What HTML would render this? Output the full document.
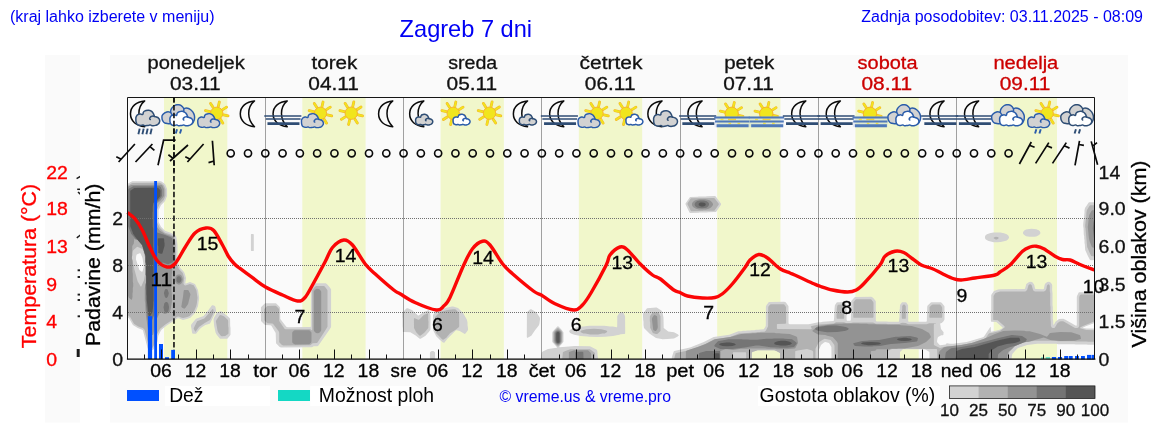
<!DOCTYPE html>
<html lang="sl"><head><meta charset="utf-8"><title>Zagreb 7 dni</title>
<style>html,body{margin:0;padding:0;background:#fff;overflow:hidden}body{width:1152px;height:443px;position:relative;font-family:"Liberation Sans",sans-serif}svg{position:absolute;left:0;top:0;display:block;will-change:transform;transform:translateZ(0)}text{font-family:"Liberation Sans",sans-serif}</style>
</head><body>
<svg width="1152" height="443" viewBox="0 0 1152 443">
<defs>
<path id="moon" d="M6.7 100.9C-1.5 101.5-7.5 106.6-7.5 113.8C-7.5 121.1-1.8 126 6.7 126.7C2.6 123 0.9 118.6 0.9 113.6C0.9 108.6 2.8 104 6.7 100.9Z" fill="none" stroke="#0a0a0a" stroke-width="1.5" stroke-linejoin="round"/>
<g id="sun"><line x1="1.57" y1="-6.82" x2="2.61" y2="-11.30" stroke="#f6ae2d" stroke-width="2.8" stroke-linecap="round"/><line x1="5.94" y1="-3.71" x2="9.84" y2="-6.15" stroke="#f6ae2d" stroke-width="2.8" stroke-linecap="round"/><line x1="6.82" y1="1.57" x2="11.30" y2="2.61" stroke="#f6ae2d" stroke-width="2.8" stroke-linecap="round"/><line x1="3.71" y1="5.94" x2="6.15" y2="9.84" stroke="#f6ae2d" stroke-width="2.8" stroke-linecap="round"/><line x1="-1.57" y1="6.82" x2="-2.61" y2="11.30" stroke="#f6ae2d" stroke-width="2.8" stroke-linecap="round"/><line x1="-5.94" y1="3.71" x2="-9.84" y2="6.15" stroke="#f6ae2d" stroke-width="2.8" stroke-linecap="round"/><line x1="-6.82" y1="-1.57" x2="-11.30" y2="-2.61" stroke="#f6ae2d" stroke-width="2.8" stroke-linecap="round"/><line x1="-3.71" y1="-5.94" x2="-6.15" y2="-9.84" stroke="#f6ae2d" stroke-width="2.8" stroke-linecap="round"/><line x1="1.57" y1="-6.82" x2="2.61" y2="-11.30" stroke="#f1e51d" stroke-width="1.85" stroke-linecap="round"/><line x1="5.94" y1="-3.71" x2="9.84" y2="-6.15" stroke="#f1e51d" stroke-width="1.85" stroke-linecap="round"/><line x1="6.82" y1="1.57" x2="11.30" y2="2.61" stroke="#f1e51d" stroke-width="1.85" stroke-linecap="round"/><line x1="3.71" y1="5.94" x2="6.15" y2="9.84" stroke="#f1e51d" stroke-width="1.85" stroke-linecap="round"/><line x1="-1.57" y1="6.82" x2="-2.61" y2="11.30" stroke="#f1e51d" stroke-width="1.85" stroke-linecap="round"/><line x1="-5.94" y1="3.71" x2="-9.84" y2="6.15" stroke="#f1e51d" stroke-width="1.85" stroke-linecap="round"/><line x1="-6.82" y1="-1.57" x2="-11.30" y2="-2.61" stroke="#f1e51d" stroke-width="1.85" stroke-linecap="round"/><line x1="-3.71" y1="-5.94" x2="-6.15" y2="-9.84" stroke="#f1e51d" stroke-width="1.85" stroke-linecap="round"/><circle cx="0" cy="0" r="6.2" fill="#f1e51d" stroke="#f6ae2d" stroke-width="0.9"/></g>
<filter id="cb" x="-5%" y="-5%" width="110%" height="110%"><feGaussianBlur stdDeviation="0.7"/></filter>
<clipPath id="plotclip"><rect x="127.0" y="97.0" width="968.0" height="262.1"/></clipPath>
</defs>
<rect x="45" y="55" width="35" height="367.5" fill="#fafafa"/>
<rect x="110" y="55" width="1018" height="367.5" fill="#fafafa"/>
<text x="10.00" y="22.00" font-size="16.00" fill="#0000f4" text-anchor="start">(kraj lahko izberete v meniju)</text>
<text x="399.60" y="37.00" font-size="23.60" fill="#0000f4" text-anchor="start">Zagreb 7 dni</text>
<text x="1143.00" y="22.00" font-size="16.00" fill="#0000f4" text-anchor="end">Zadnja posodobitev: 03.11.2025 - 08:09</text>
<rect x="164.00" y="97.0" width="63.30" height="262.1" fill="#f1f7cb"/>
<rect x="302.29" y="97.0" width="63.30" height="262.1" fill="#f1f7cb"/>
<rect x="440.57" y="97.0" width="63.30" height="262.1" fill="#f1f7cb"/>
<rect x="578.86" y="97.0" width="63.30" height="262.1" fill="#f1f7cb"/>
<rect x="717.14" y="97.0" width="63.30" height="262.1" fill="#f1f7cb"/>
<rect x="855.43" y="97.0" width="63.30" height="262.1" fill="#f1f7cb"/>
<rect x="993.71" y="97.0" width="63.30" height="262.1" fill="#f1f7cb"/>
<g clip-path="url(#plotclip)"><g filter="url(#cb)">
<path d="M153.0 349.9L151.7 349.8L148.3 349.1L147.7 348.4L143.1 331.0L142.7 330.0L137.7 327.9L132.9 325.0L129.0 318.3L126.3 316.2L125.8 315.3L125.8 185.7L126.1 185.0L126.9 184.3L130.7 181.9L132.3 181.2L160.3 181.2L161.0 181.3L164.0 183.3L165.3 184.5L167.1 189.0L167.1 196.0L165.1 201.0L161.0 205.3L158.6 210.0L158.6 222.0L161.0 226.7L165.0 230.8L171.3 233.1L175.0 235.3L176.0 236.1L176.5 237.7L177.5 244.7L177.5 262.0L180.3 268.0L183.8 271.7L184.4 272.7L186.1 278.0L185.3 283.3L186.0 283.5L190.0 282.1L195.0 284.1L198.0 290.0L199.1 297.3L199.1 298.7L198.0 306.3L195.9 311.3L194.8 313.3L190.3 317.8L187.7 318.7L183.0 319.9L178.7 318.3L177.7 318.3L166.7 325.6L161.7 329.5L160.8 330.7L158.3 335.7L157.5 341.3L156.9 343.3L153.6 349.3ZM698.7 212.7L690.3 212.9L689.7 212.7L689.3 212.2L685.4 204.0L685.7 203.3L690.0 197.0L697.3 196.8L699.0 196.5L705.7 196.5L707.3 196.2L715.0 196.1L715.7 196.6L721.1 203.7L721.0 204.7L716.0 212.0L708.3 212.2L706.7 212.5L699.7 212.5ZM1098.7 260.1L1091.0 260.2L1090.0 259.9L1087.9 256.0L1085.2 250.0L1084.8 244.3L1084.5 243.0L1084.5 240.0L1084.2 238.7L1084.2 236.3L1083.8 234.7L1083.5 228.0L1083.2 226.3L1083.2 224.0L1084.5 212.7L1084.5 210.3L1085.0 208.0L1087.7 203.9L1088.7 202.6L1089.3 202.2L1098.3 202.2L1098.8 202.3L1099.2 203.0L1099.2 259.0L1099.1 259.7ZM1034.3 236.7L1029.7 236.8L1026.0 236.2L1024.3 235.1L1023.3 234.0L1022.9 233.0L1023.3 231.7L1024.3 230.5L1026.0 229.4L1029.3 228.9L1031.7 228.7L1036.3 229.2L1038.7 230.3L1039.8 231.3L1040.2 232.0L1040.4 233.0L1040.1 234.0L1039.0 235.1L1037.3 236.1L1036.3 236.5ZM1000.7 242.1L997.0 242.3L993.7 242.2L988.7 241.1L987.0 240.3L985.3 239.0L984.9 237.3L985.2 236.0L985.6 235.3L987.0 234.3L989.7 233.3L993.3 232.5L997.0 232.4L1000.3 232.5L1004.0 233.3L1006.7 234.3L1008.3 235.6L1009.1 237.3L1008.8 238.3L1008.1 239.3L1006.7 240.4L1005.0 241.1ZM253.3 251.1L251.3 251.1L250.9 250.3L250.9 234.7L251.2 234.0L251.7 233.9L253.3 233.9L253.8 234.7L253.8 250.0L253.8 250.7ZM142.3 271.7L142.7 271.0L143.7 267.0L143.8 265.7L142.4 257.7L140.7 253.7L140.3 253.2L139.7 253.2L136.7 254.5L136.2 256.0L135.9 259.3L139.4 270.0L141.7 271.7ZM1011.0 361.7L930.0 361.8L929.5 361.7L929.4 352.3L928.7 351.5L925.3 349.4L924.0 349.2L904.3 349.2L903.0 349.3L900.0 352.0L899.8 361.7L899.3 361.8L832.0 361.8L831.5 361.7L831.4 347.0L829.0 343.0L825.3 342.1L824.0 342.6L821.0 344.9L819.0 349.7L818.8 361.7L818.3 361.8L780.3 361.7L780.2 361.7L780.0 353.1L776.3 350.9L774.3 350.2L757.7 350.2L752.3 351.9L751.8 352.7L751.8 361.7L751.3 361.8L672.7 361.8L671.8 361.7L671.8 358.0L671.9 357.0L673.3 352.7L673.7 351.6L674.1 351.0L690.0 347.4L703.8 342.0L713.7 337.0L729.3 334.8L738.3 331.2L741.3 331.2L743.0 330.8L745.7 330.8L747.3 330.5L750.0 330.5L751.7 330.2L754.3 330.2L756.0 329.8L758.7 329.8L760.0 329.5L763.7 329.3L765.1 327.3L765.8 325.7L765.9 306.3L766.6 305.0L768.6 302.3L769.3 301.9L784.3 301.8L785.0 301.9L785.7 302.3L787.7 305.0L788.5 306.3L788.5 323.3L789.0 324.1L790.0 324.2L808.7 324.2L818.3 322.2L821.0 322.2L822.7 321.8L833.3 321.1L833.8 320.7L834.1 318.0L834.2 314.0L834.5 312.3L834.5 308.7L834.9 305.3L836.7 302.6L837.7 302.2L844.3 302.2L845.2 302.7L846.2 304.7L846.5 305.7L846.6 320.3L847.3 320.8L850.3 320.8L850.8 320.0L851.2 301.3L851.5 300.7L853.7 298.2L854.7 297.2L855.3 296.9L871.3 296.8L872.3 297.2L873.5 298.3L875.5 300.7L875.8 301.3L875.8 320.3L876.0 321.1L876.7 321.5L886.7 321.5L888.7 321.8L898.0 321.8L898.8 321.7L899.1 321.0L899.2 318.7L899.5 317.0L899.5 310.0L899.8 308.7L900.0 305.0L902.0 302.3L905.0 302.2L905.7 302.2L906.3 302.6L908.1 305.3L908.2 320.7L908.5 321.7L909.7 321.8L926.3 321.8L926.8 321.0L927.2 306.7L927.5 305.7L930.5 302.7L931.3 302.2L940.7 302.2L941.3 302.5L942.3 303.5L944.5 306.3L944.5 319.0L944.3 320.0L943.1 321.7L941.7 323.0L940.5 323.3L940.2 324.0L941.0 329.0L943.6 332.3L943.4 334.7L943.0 335.2L941.3 335.3L938.1 337.0L937.6 338.0L937.0 341.3L937.2 342.3L938.9 344.3L939.7 345.1L940.3 345.2L945.7 344.4L946.7 343.3L950.0 343.8L953.0 343.8L966.7 342.1L983.0 337.2L983.7 336.7L984.7 335.4L990.3 327.1L990.7 327.2L990.8 327.7L990.9 331.3L991.3 331.8L999.0 330.0L1002.4 328.3L1002.7 327.7L1002.3 327.2L996.3 321.9L991.7 321.8L991.2 321.7L990.9 321.0L990.8 311.3L991.2 309.3L991.2 295.3L991.6 294.3L994.0 291.0L998.0 289.6L1000.0 289.2L1024.3 289.1L1025.0 288.7L1026.3 284.0L1028.7 282.2L1030.0 281.8L1032.0 282.0L1033.0 282.9L1034.2 284.7L1035.0 288.3L1035.5 289.0L1043.0 289.2L1043.7 288.9L1044.0 288.3L1044.6 285.0L1045.3 283.5L1047.3 282.0L1048.7 281.8L1050.0 282.0L1051.8 284.0L1052.2 285.0L1052.2 290.7L1052.5 292.7L1052.5 305.0L1052.8 307.0L1052.8 319.0L1053.2 320.7L1053.3 324.8L1053.7 324.8L1054.0 324.4L1055.5 321.7L1059.0 319.0L1063.3 318.8L1065.0 319.4L1076.0 325.8L1076.7 325.5L1076.8 324.7L1076.8 296.7L1077.1 295.7L1078.6 292.7L1079.0 292.3L1080.0 292.2L1098.0 292.2L1099.0 292.5L1099.2 294.0L1099.2 321.7L1099.0 322.7L1098.3 323.1L1094.0 323.3L1085.7 326.3L1082.8 327.7L1083.0 328.0L1086.7 328.5L1098.0 328.5L1099.0 328.9L1099.2 329.7L1099.2 343.7L1098.8 344.7L1098.0 344.8L1088.3 344.8L1086.3 344.5L1076.0 344.5L1074.0 344.2L1058.3 344.2L1056.0 343.8L1037.3 343.8L1027.3 344.9L1018.0 348.0L1015.8 350.0L1012.3 354.0L1011.9 356.0L1011.5 360.3ZM312.0 347.3L281.0 347.5L279.7 347.1L276.0 343.3L275.7 333.0L271.4 325.7L270.3 325.2L265.0 325.0L261.0 321.0L260.9 307.7L261.2 307.0L262.7 305.5L264.7 303.5L265.3 303.2L276.0 303.3L279.5 306.7L280.1 307.7L280.3 319.0L286.3 326.8L287.7 327.2L310.3 327.1L310.8 326.7L310.8 326.0L311.0 288.0L314.2 284.0L315.0 283.3L325.7 283.2L327.1 284.3L329.5 287.0L331.1 289.3L331.1 326.7L330.7 327.7L329.4 329.7L318.3 345.7L317.3 346.2L313.7 346.2ZM196.0 333.7L193.0 333.8L192.2 333.3L190.9 325.7L191.0 325.0L191.6 324.0L196.0 318.7L203.0 316.2L203.8 315.7L207.5 311.3L212.0 305.3L213.0 305.2L214.9 306.0L215.5 307.3L216.1 310.7L216.0 311.3L210.2 323.3L209.7 323.8L205.3 325.0L201.9 327.3L200.0 328.8ZM444.0 342.8L443.0 342.4L440.0 340.1L436.2 336.3L433.0 330.0L433.0 315.0L436.5 310.3L437.3 309.9L451.7 306.4L453.3 306.6L458.0 308.0L463.3 313.3L466.9 319.7L467.5 322.3L467.5 324.7L468.1 329.0L468.0 330.0L466.1 332.7L465.0 333.9L464.3 333.7L459.7 331.0L456.7 330.2L456.0 330.3L447.2 339.0L444.3 342.7ZM667.3 339.1L662.7 339.2L656.0 338.0L649.7 333.8L644.2 328.3L643.9 327.7L643.5 325.0L643.5 321.7L643.2 320.0L642.9 314.3L643.3 313.3L647.0 308.3L656.0 307.4L656.7 307.6L661.7 310.8L662.4 312.0L663.5 317.7L663.7 328.0L668.3 331.4L674.0 332.3L677.7 334.3L678.9 335.3L677.7 336.4L674.0 338.4ZM420.7 338.7L419.7 338.8L415.7 335.6L410.3 332.3L403.7 332.1L402.9 331.7L402.8 328.0L402.5 326.3L402.5 318.7L402.2 317.0L402.2 313.3L402.5 312.7L404.9 310.0L406.7 308.2L407.7 308.3L412.0 310.0L418.0 315.6L418.7 315.5L424.0 312.0L428.3 310.3L429.0 310.2L429.4 310.7L430.5 315.3L430.5 329.7L428.8 332.0L425.5 335.7ZM527.7 337.7L527.1 337.7L526.8 337.0L526.9 312.3L527.3 311.7L530.0 309.6L530.7 309.2L531.3 309.2L536.3 312.3L539.7 317.3L540.1 318.7L539.4 323.7L539.0 325.0L538.4 326.0L535.0 330.2L531.3 335.7ZM227.3 338.7L225.7 338.8L220.0 338.7L216.7 334.8L215.6 332.7L214.2 326.3L213.5 319.0L214.4 317.0L217.0 312.6L220.3 311.2L221.3 311.2L222.7 312.2L228.8 317.3L229.8 318.3L230.1 319.0L230.2 326.0L230.5 328.0L230.5 334.7L229.5 336.3ZM605.3 336.7L597.0 336.9L589.0 336.8L587.3 336.5L580.7 336.1L574.3 334.7L571.0 333.4L569.9 332.7L569.2 331.3L569.9 330.0L571.0 329.3L574.3 328.0L581.0 326.5L583.3 326.5L589.0 325.8L604.3 325.8L610.3 326.5L613.0 326.5L616.7 327.3L617.1 327.0L617.2 326.3L617.3 315.9L620.0 312.3L621.7 312.2L623.0 312.3L623.7 313.2L625.1 316.3L625.2 333.0L625.0 333.8L624.3 334.1L620.7 334.2L619.3 334.7L613.0 336.1L610.3 336.2ZM597.7 360.1L542.0 360.2L541.2 360.0L540.9 359.3L541.5 354.0L541.9 352.3L542.3 351.8L548.0 349.0L556.8 347.7L557.0 347.3L556.8 347.0L552.5 342.3L552.2 341.7L552.2 332.7L552.7 331.5L556.2 327.7L557.3 326.5L558.0 326.2L558.8 326.7L561.8 330.0L563.3 332.0L563.5 332.7L563.5 341.7L561.8 344.0L559.6 346.3L559.4 347.0L559.7 347.2L575.0 346.1L590.0 346.3L596.3 349.6L597.0 350.1L597.5 352.3L597.5 354.7L598.1 359.0L598.1 359.7ZM433.3 360.0L431.3 360.0L430.6 359.3L429.9 358.0L429.9 352.7L430.5 351.7L431.7 350.9L433.3 351.0L434.7 352.0L435.1 352.7L435.1 358.0L434.7 358.8Z" fill="#d2d2d2" fill-rule="evenodd"/>
<path d="M152.0 348.1L149.9 347.7L149.3 347.3L149.0 346.7L144.7 330.3L144.0 329.0L142.7 328.1L138.3 326.4L134.0 323.7L130.3 317.3L127.9 315.3L127.5 314.7L127.5 294.7L126.0 290.3L125.8 289.3L125.8 188.7L126.1 188.0L127.3 187.0L127.9 185.7L131.7 183.3L132.7 182.9L159.7 182.8L161.0 183.3L163.3 184.9L164.0 185.7L165.5 189.3L165.5 195.7L163.7 200.0L159.6 204.3L157.0 209.7L157.0 222.3L159.7 227.7L164.0 232.1L165.0 232.7L170.7 234.6L174.0 236.6L174.6 237.3L175.8 245.0L175.9 262.3L178.9 269.0L182.3 272.5L182.8 273.3L184.3 278.0L183.5 283.0L183.6 284.0L184.3 285.0L185.3 285.5L190.0 283.9L193.7 285.3L196.4 290.3L197.5 297.7L196.8 303.7L196.2 306.3L193.7 312.0L189.7 316.1L187.3 317.1L183.3 318.1L181.7 317.7L178.7 316.5L177.2 316.7L165.7 324.3L160.0 328.8L156.6 335.3L155.8 341.0L155.3 342.8L153.4 346.3L152.5 347.7ZM702.7 211.1L691.3 211.2L690.9 211.0L687.4 204.0L687.6 203.3L690.7 198.6L691.3 198.2L692.0 198.2L714.0 198.1L714.7 198.6L718.8 203.7L718.7 204.7L714.3 210.7L703.7 210.8ZM1098.7 256.8L1096.7 256.8L1091.3 255.9L1090.1 253.7L1087.2 247.0L1085.5 228.3L1085.2 227.3L1085.2 225.3L1086.1 217.7L1086.5 212.0L1087.0 210.0L1089.6 205.7L1090.3 205.2L1098.3 205.2L1098.8 205.3L1099.2 206.0L1099.2 255.7L1099.0 256.6ZM997.0 239.4L995.7 239.5L994.7 239.1L993.7 238.3L993.7 237.7L994.3 237.2L996.0 236.8L998.3 237.3L998.6 237.7L998.7 238.3ZM141.4 286.3L144.0 280.3L145.5 272.3L145.5 266.0L145.2 264.3L145.1 257.7L143.0 249.4L141.3 248.4L137.3 246.8L134.3 249.2L132.7 251.0L132.2 253.3L131.9 258.3L134.3 269.0L137.6 281.3L140.5 286.3L141.0 286.7ZM1008.0 361.7L938.0 361.8L937.5 361.7L937.1 349.7L936.7 348.9L893.3 348.8L892.0 349.0L887.3 350.9L886.9 351.3L886.8 361.7L886.7 361.7L835.0 361.8L834.5 361.7L834.5 346.0L834.2 344.7L830.7 340.0L824.7 338.7L822.3 339.9L818.7 342.4L815.7 348.2L815.5 349.3L815.5 361.7L815.0 361.8L813.2 361.7L813.2 352.0L813.0 351.2L812.0 350.6L807.0 349.1L797.7 350.5L795.7 350.9L795.3 351.2L795.2 352.0L795.2 361.7L794.7 361.8L781.3 361.8L780.2 361.7L780.0 353.1L776.3 350.9L774.3 350.2L757.7 350.2L752.3 351.9L751.8 352.7L751.8 361.7L751.3 361.8L746.2 361.7L746.1 353.0L745.8 352.3L745.0 352.2L734.0 352.2L733.2 352.3L732.8 353.3L732.8 361.7L732.3 361.8L675.0 361.8L674.2 361.7L674.2 358.7L675.4 354.0L675.7 353.3L676.2 353.0L686.7 350.7L696.7 347.4L704.7 344.2L714.3 339.3L730.0 337.1L739.0 333.5L750.7 332.8L752.3 332.5L755.0 332.5L756.7 332.2L759.3 332.2L761.0 331.8L763.7 331.8L765.0 331.4L766.1 330.3L768.1 326.3L768.2 307.3L768.6 306.3L769.7 304.9L770.7 304.2L783.7 304.2L784.5 304.7L786.0 307.0L786.1 323.3L785.3 323.8L777.2 324.0L776.9 324.7L776.9 328.3L777.0 328.8L777.7 329.1L811.0 329.2L811.6 329.0L811.8 328.7L810.9 326.7L811.0 326.3L812.0 325.9L819.0 324.5L834.0 323.5L836.0 322.3L836.7 322.2L844.0 322.2L846.0 323.0L847.0 323.2L851.0 323.1L853.0 322.5L873.0 322.5L873.7 322.7L875.7 323.8L886.0 323.8L888.0 324.2L899.3 324.1L901.3 323.0L902.3 322.8L905.7 322.9L907.6 324.0L908.7 324.2L926.7 324.2L929.3 323.2L935.9 323.3L935.8 323.7L934.3 323.8L933.8 324.7L933.9 344.7L934.7 345.4L940.0 347.9L947.7 345.9L951.0 346.2L959.0 345.2L961.3 345.1L971.7 343.1L984.3 338.8L985.7 338.0L988.5 334.0L989.3 333.3L992.7 332.8L1000.0 331.0L1004.7 327.3L1004.7 326.7L1004.2 326.0L997.7 320.2L994.0 320.1L993.2 319.7L993.2 312.3L993.5 310.3L993.5 296.0L995.2 293.3L996.7 292.6L1000.3 291.5L1025.3 291.4L1026.3 290.8L1027.2 289.7L1028.5 285.3L1029.3 284.6L1030.3 284.2L1031.0 284.4L1031.7 285.3L1032.8 289.3L1033.5 290.7L1034.3 291.2L1035.3 291.5L1044.0 291.5L1045.3 290.8L1046.0 289.8L1046.4 289.0L1046.9 286.0L1047.2 285.3L1048.3 284.3L1049.0 284.4L1049.8 285.7L1049.8 291.3L1050.2 293.0L1050.2 305.3L1050.5 307.3L1050.5 319.3L1050.8 321.3L1050.9 326.0L1051.7 327.5L1052.7 328.0L1053.3 328.1L1054.3 327.9L1055.1 327.3L1057.4 323.3L1059.7 321.5L1061.0 321.2L1063.0 321.2L1063.7 321.4L1075.0 328.0L1077.0 328.1L1078.1 327.7L1078.7 327.0L1079.2 325.7L1079.2 297.3L1079.9 295.3L1080.5 294.7L1081.3 294.5L1095.7 294.5L1096.7 294.9L1096.8 296.0L1096.8 321.0L1096.3 321.4L1094.3 321.5L1093.0 321.9L1083.0 325.9L1080.5 327.3L1079.9 328.0L1080.3 328.3L1086.3 330.1L1096.5 330.3L1096.8 330.7L1096.8 332.0L1096.8 340.7L1096.5 341.7L1088.3 341.8L1086.3 341.5L1076.0 341.5L1074.0 341.2L1058.0 341.2L1056.0 340.8L1035.0 340.8L1024.3 342.2L1015.0 345.9L1009.5 351.7L1009.2 352.3L1008.9 354.3L1008.5 360.0ZM310.3 345.3L283.3 345.5L282.0 345.1L279.7 342.8L279.2 342.0L279.2 332.7L278.7 331.3L273.0 323.7L272.3 323.5L267.3 323.3L264.3 320.3L264.2 309.3L264.5 308.7L265.7 307.5L267.0 306.2L267.7 305.9L275.3 305.8L276.0 306.0L276.7 306.5L278.8 308.7L279.1 309.3L279.2 321.0L284.7 329.0L285.7 329.2L309.7 329.2L310.3 329.3L311.7 330.3L312.1 330.0L312.2 329.0L312.2 290.3L312.5 289.7L314.5 287.3L316.0 286.0L323.7 285.9L324.5 286.3L326.1 288.3L327.3 290.0L327.5 290.7L327.5 326.7L325.4 330.3L317.3 342.7L316.7 343.1L312.7 343.3ZM873.0 317.8L854.3 317.8L853.3 317.5L853.2 313.0L853.5 311.0L853.5 302.3L855.7 299.5L856.7 299.2L870.0 299.2L871.0 299.3L871.5 299.7L873.1 301.7L873.5 302.7L873.5 316.7L873.4 317.3ZM843.7 318.8L837.3 318.8L836.6 318.3L836.5 314.7L836.8 313.0L836.8 309.3L837.2 306.3L837.6 305.3L838.3 304.7L843.0 304.5L843.7 305.0L844.0 305.7L844.2 317.7L844.1 318.3ZM905.3 318.8L902.3 318.8L901.8 318.3L901.8 310.7L902.2 309.0L902.2 306.3L902.9 305.0L903.7 304.5L904.3 304.5L905.0 304.9L905.8 306.3L905.8 317.7L905.8 318.3ZM941.7 317.8L930.3 317.8L929.3 317.5L929.2 316.0L929.5 314.0L929.5 307.3L929.9 306.7L931.7 304.9L932.7 304.5L939.7 304.5L940.5 305.0L941.8 306.7L942.2 307.7L942.2 316.7L942.1 317.3ZM195.7 331.6L195.3 331.7L195.0 331.3L193.8 329.0L193.7 328.3L197.1 321.3L197.7 320.9L204.3 318.5L208.1 314.3L212.3 309.3L213.0 309.1L213.5 310.0L213.7 312.7L210.0 320.0L204.7 322.9L199.0 326.9ZM443.3 339.8L443.0 339.8L442.3 339.5L436.0 333.0L435.5 329.3L435.5 325.7L435.2 324.0L435.1 320.0L434.8 318.7L435.0 317.0L440.0 312.0L447.3 309.9L453.0 309.2L455.3 309.2L458.7 312.5L459.1 313.3L459.2 326.0L459.0 327.0L456.0 329.4L450.0 333.2L446.3 337.8ZM657.3 334.1L656.0 334.1L653.3 333.2L652.7 332.7L650.2 327.7L650.2 322.7L649.8 321.0L649.9 316.3L650.9 314.7L652.5 312.7L653.3 312.2L658.0 312.3L659.1 313.7L660.5 316.3L660.5 330.7L660.0 331.5ZM420.3 335.8L420.0 335.8L419.3 335.5L416.2 332.3L414.0 328.0L413.9 318.7L414.1 318.3L414.7 318.3L418.3 319.7L419.0 319.7L423.9 315.0L427.7 313.2L428.0 313.4L428.2 314.0L428.2 319.7L428.5 321.7L428.3 328.0L424.3 332.8ZM225.3 336.0L222.0 336.2L221.0 336.0L218.6 333.0L217.6 331.0L215.9 321.3L216.3 320.3L219.3 315.8L220.0 315.1L221.3 315.3L224.0 316.2L227.7 319.8L228.1 320.7L228.2 326.3L228.5 328.0L228.5 333.3L228.1 334.0ZM558.3 346.4L557.7 346.4L556.2 345.3L553.6 342.3L553.2 340.7L553.3 332.3L554.2 331.0L556.3 328.8L558.0 327.8L561.1 330.3L562.2 332.0L562.5 333.3L562.3 342.0L561.0 343.8ZM598.0 334.4L590.3 334.5L585.3 333.5L583.3 333.5L580.9 332.3L580.6 332.0L580.5 331.3L581.3 330.5L586.3 329.2L594.0 328.7L601.3 329.2L606.3 330.5L607.2 331.3L607.1 332.0L606.7 332.3L604.7 333.4L602.3 333.5ZM594.7 360.1L562.7 360.1L562.2 359.7L562.2 359.0L562.9 352.3L563.3 351.9L564.7 351.3L570.3 349.2L589.7 349.2L591.0 349.9L595.0 353.0L595.1 359.3Z" fill="#b2b2b2" fill-rule="evenodd"/>
<path d="M152.7 335.1L149.7 335.1L148.9 334.7L147.9 329.3L145.9 315.3L145.8 312.0L145.5 310.3L145.2 303.0L144.8 301.0L144.8 288.3L146.2 281.7L146.2 276.3L145.8 274.3L145.8 263.3L145.5 261.7L145.5 256.0L142.1 245.0L137.7 239.8L137.0 239.5L136.0 239.9L134.7 239.0L134.3 239.3L133.7 243.7L132.4 245.7L132.2 246.7L132.2 255.3L131.8 258.0L132.5 261.0L132.5 272.0L132.8 273.7L132.8 281.7L133.2 283.3L133.2 286.3L132.8 288.3L132.8 292.0L132.5 293.3L132.5 296.7L132.0 299.5L131.7 299.7L131.0 299.4L128.8 297.7L125.9 290.0L125.8 188.7L126.1 188.0L126.9 187.3L131.3 184.9L161.0 184.8L161.7 184.9L162.2 185.3L164.1 189.3L164.1 195.7L163.3 197.1L160.3 200.8L156.6 203.7L156.2 204.3L156.2 208.3L155.8 210.0L155.8 218.7L155.5 220.7L155.5 224.7L156.0 225.7L159.7 230.4L165.0 233.9L173.3 236.7L173.9 237.0L174.2 237.7L174.2 240.3L174.5 242.0L174.5 248.7L174.8 250.3L174.8 257.0L175.2 258.7L175.2 261.3L174.9 262.3L172.2 268.0L172.2 272.7L171.8 274.3L171.8 283.7L171.5 286.0L171.5 291.7L171.8 293.3L172.2 300.0L170.5 310.3L169.9 312.0L165.3 313.9L164.7 313.9L160.7 312.3L160.2 312.3L159.8 312.7L156.3 319.7L153.4 334.0L153.1 334.7ZM705.7 209.4L702.3 209.6L699.3 209.5L696.0 208.7L694.7 208.1L693.7 207.5L692.3 206.0L691.9 204.3L692.3 202.7L693.7 201.2L695.3 200.2L699.3 199.2L705.3 199.2L708.7 200.0L710.0 200.6L711.0 201.2L712.4 202.7L713.1 204.3L712.8 205.3L712.1 206.3L710.7 207.7L708.7 208.7ZM1098.7 248.8L1094.7 248.1L1092.0 247.2L1089.6 241.3L1088.9 238.0L1087.8 227.0L1088.9 217.0L1089.3 215.0L1089.9 213.7L1091.6 210.7L1092.3 210.2L1098.3 210.2L1098.8 210.3L1099.2 211.0L1099.2 247.7L1099.0 248.6ZM179.7 284.4L178.3 284.5L176.7 283.7L175.6 282.3L175.2 281.3L175.3 277.3L176.3 275.5L177.0 274.9L178.0 274.5L180.0 274.6L181.2 275.3L182.2 277.0L182.8 279.0L182.5 281.3L182.1 282.3L181.1 283.7ZM319.0 333.0L317.7 333.2L316.0 333.0L314.2 331.3L313.8 330.3L313.8 291.7L314.0 291.0L314.8 290.0L316.0 289.0L316.7 288.8L319.0 289.0L320.8 290.7L321.2 291.7L321.2 330.3L320.8 331.3ZM184.3 308.8L182.2 307.7L181.3 306.7L183.1 296.3L183.5 292.0L183.9 290.3L184.3 289.9L187.7 289.9L188.4 290.3L189.7 292.7L190.4 294.0L190.4 294.7L188.1 304.0L185.5 307.7ZM656.0 331.1L655.3 331.1L654.0 330.4L653.2 329.7L651.9 319.0L652.2 317.7L653.7 315.6L654.3 315.1L655.3 315.3L656.7 315.9L657.2 316.7L657.8 327.3L657.4 328.7ZM870.7 361.7L839.0 361.8L837.8 361.7L837.8 343.7L837.7 343.0L836.5 341.3L832.7 337.0L827.3 335.8L825.3 334.9L818.0 334.4L813.7 332.1L812.6 331.3L812.3 330.7L816.3 327.2L818.3 325.9L820.3 325.8L835.7 323.8L842.0 323.8L844.0 323.5L858.3 323.5L860.3 323.8L867.0 323.8L868.7 324.2L875.3 324.2L877.0 324.5L899.3 324.8L901.0 325.2L911.7 325.9L922.0 328.9L929.0 333.0L930.7 336.3L930.9 337.0L930.5 337.7L926.1 342.0L918.0 346.0L904.3 348.5L898.3 348.5L896.7 348.8L891.0 348.8L889.3 349.2L877.0 349.2L876.3 349.4L875.3 350.8L871.3 350.9L870.9 351.7L870.8 361.7ZM558.7 344.8L557.7 345.0L556.5 344.3L554.9 342.7L554.2 340.7L554.3 332.7L555.5 331.0L557.7 329.6L558.7 329.8L560.3 330.9L561.4 332.3L561.5 333.0L561.5 341.3L560.5 343.3ZM309.3 344.3L295.3 344.5L294.0 344.1L292.5 342.7L292.2 342.0L292.2 333.0L292.5 332.0L294.0 330.5L295.0 330.2L308.7 330.2L309.7 330.5L311.1 332.0L311.5 332.7L311.5 341.3L311.1 342.7ZM1006.0 361.8L939.3 361.8L937.8 361.7L938.5 354.3L939.0 352.0L940.5 350.3L944.0 347.3L952.3 345.9L961.3 345.1L971.7 343.1L983.7 339.1L995.0 333.9L1003.3 330.9L1015.0 330.4L1024.3 330.8L1026.0 331.2L1029.7 331.2L1040.0 334.0L1046.7 336.7L1047.3 336.4L1049.7 333.3L1050.3 332.9L1060.0 332.1L1071.3 332.2L1079.7 334.9L1080.4 336.0L1080.9 338.3L1080.8 339.0L1074.7 340.8L1060.0 340.9L1050.3 340.1L1045.3 337.9L1043.7 337.5L1028.7 341.7L1024.0 342.3L1015.0 345.9L1011.3 349.5L1008.5 351.7L1007.9 353.0L1006.5 360.7L1006.2 361.7ZM720.0 361.7L686.0 361.7L685.8 361.7L685.9 351.3L687.0 350.6L697.7 347.1L705.7 344.1L715.0 339.3L730.3 337.1L741.3 333.9L750.7 333.5L752.3 333.2L756.0 333.2L757.7 332.8L774.3 332.8L776.0 333.2L779.3 333.2L781.0 333.5L789.7 333.9L796.3 336.6L797.1 337.3L798.0 343.0L795.4 348.0L794.7 348.5L786.0 349.3L776.7 349.2L775.0 348.8L767.3 348.8L765.3 348.5L749.3 348.5L747.7 348.8L741.0 348.8L733.0 349.9L727.3 349.2L725.3 349.3L721.0 350.7L720.2 351.3L720.2 361.7ZM590.7 360.1L569.3 360.1L568.9 359.3L568.9 352.3L569.7 351.7L574.3 350.2L588.0 350.3L590.7 352.8L591.1 353.7L591.1 359.3Z" fill="#939393" fill-rule="evenodd"/>
<path d="M150.7 322.1L149.0 322.1L148.2 321.7L147.9 320.0L146.2 305.7L146.2 300.7L145.8 299.0L145.8 290.7L145.5 288.3L145.5 284.7L146.2 282.0L146.2 276.7L145.8 274.7L145.8 263.3L145.5 261.7L145.4 255.7L142.1 245.0L137.8 240.0L137.3 239.6L136.0 239.2L131.3 234.1L128.2 226.0L128.2 189.7L128.7 188.8L133.3 186.2L159.7 186.2L160.6 187.0L162.1 190.3L162.0 196.0L158.3 200.8L154.9 203.7L154.5 204.7L154.5 238.3L154.8 240.7L154.8 253.7L155.2 255.7L155.2 301.7L154.8 303.3L154.8 306.7L154.5 308.3L154.5 311.7L154.1 315.0L151.8 320.7L151.2 321.7ZM704.0 208.1L702.0 208.3L700.0 208.1L697.7 207.7L697.0 207.4L695.7 206.5L695.0 205.7L694.6 204.3L695.0 203.0L695.7 202.2L697.3 201.1L700.0 200.5L703.7 200.5L706.0 201.0L706.7 201.3L708.0 202.2L708.7 203.0L709.1 204.3L708.8 205.3L708.2 206.3L706.7 207.4L706.0 207.7ZM1098.7 239.8L1095.3 238.6L1094.3 238.1L1093.9 237.7L1092.8 228.3L1093.5 222.0L1094.0 220.2L1095.7 219.3L1098.7 218.2L1099.1 218.7L1099.2 220.3L1099.2 238.7L1099.0 239.6ZM168.7 264.1L167.7 264.2L163.0 262.5L158.0 263.8L157.3 263.8L156.9 263.3L156.8 259.3L156.5 257.7L156.5 248.7L156.2 247.0L156.2 238.0L155.8 236.0L155.9 232.7L156.3 232.2L165.0 234.9L171.3 237.6L172.1 238.3L172.5 240.0L173.5 249.3L173.5 255.0L173.2 256.7L173.2 261.3L172.9 262.0L172.5 262.3ZM179.7 282.7L178.7 282.8L177.7 282.5L177.1 282.0L176.5 280.7L176.6 278.0L177.3 276.8L178.3 276.2L179.3 276.2L180.2 276.7L180.9 277.7L181.4 279.0L181.4 280.0L180.9 281.3L180.3 282.3ZM167.0 297.7L166.0 297.9L164.9 297.0L163.9 293.3L164.8 290.0L165.3 289.2L166.0 288.9L167.0 289.0L167.7 289.7L168.8 293.3L168.0 296.3ZM167.0 312.7L166.3 312.9L165.7 312.7L164.6 311.7L164.2 310.7L163.5 307.3L164.4 303.3L165.3 302.2L166.3 301.9L167.3 302.2L168.2 303.3L169.1 307.3L168.4 311.0L167.8 312.0ZM837.0 332.1L827.3 332.2L822.3 331.5L818.0 330.7L815.7 329.7L815.3 329.3L815.2 328.7L816.0 327.8L818.3 326.9L828.3 325.5L836.3 325.5L841.3 326.2L845.7 327.0L848.0 327.9L848.7 328.7L848.7 329.1L848.0 329.7L845.7 330.7ZM558.7 343.7L557.3 343.7L556.3 343.1L555.6 342.0L555.2 340.3L555.3 333.0L556.3 331.5L557.3 331.0L558.0 330.9L558.7 331.0L559.7 331.5L560.2 332.3L560.5 333.3L560.5 341.3L559.8 343.0ZM997.0 361.7L946.3 361.8L944.8 361.7L945.5 354.3L946.0 352.0L950.0 348.9L951.3 348.2L961.3 347.1L974.3 344.5L997.7 338.3L1011.7 335.1L1014.7 335.2L1022.0 336.0L1026.7 338.9L1026.7 339.7L1025.3 342.0L1024.0 342.3L1014.7 346.0L1010.3 347.0L1003.7 349.8L1002.2 350.7L998.3 354.0L997.9 355.7L997.5 360.0ZM872.3 346.4L865.0 346.6L855.3 346.1L854.6 345.7L853.3 343.7L853.4 343.3L854.3 342.9L862.3 340.9L867.0 340.8L868.7 340.5L879.3 340.1L895.7 336.8L899.0 336.8L900.7 336.5L910.0 336.1L916.7 337.6L917.7 337.9L917.9 338.3L917.4 340.7L916.7 341.4L904.7 343.1L890.7 343.9L879.7 346.1L873.3 346.2ZM732.0 349.1L720.3 349.1L714.7 346.4L714.3 346.0L714.3 345.7L715.2 344.3L718.0 341.3L728.7 339.2L741.3 339.2L743.0 339.5L747.7 339.5L749.3 339.8L757.3 339.8L766.7 338.8L772.0 338.8L774.0 338.5L783.3 338.5L784.7 338.8L792.0 339.3L795.7 341.9L796.8 343.0L796.4 344.0L794.0 347.0L787.0 347.8L780.0 347.8L778.3 347.5L770.7 347.2L759.0 345.5L756.0 345.5L744.7 347.5ZM720.0 361.7L699.0 361.7L698.8 361.7L698.9 353.3L699.3 352.9L706.3 350.9L719.7 350.9L720.1 351.3L720.2 352.0L720.2 361.7ZM583.0 360.1L576.3 360.2L575.3 359.8L575.2 353.0L575.5 352.0L582.3 351.8L583.3 352.2L583.5 359.0L583.4 359.7Z" fill="#747474" fill-rule="evenodd"/>
<path d="M150.0 316.1L149.0 316.1L148.7 315.8L148.2 314.0L147.8 308.3L146.8 300.7L146.8 296.0L146.5 294.3L146.5 286.7L146.2 285.0L146.2 276.3L145.8 274.7L145.8 263.7L145.5 261.7L145.5 256.0L142.2 245.3L137.5 239.7L133.3 234.0L130.2 226.0L130.2 191.3L130.7 190.5L134.3 187.9L157.3 187.8L158.5 188.3L160.1 190.0L160.5 190.7L160.3 196.0L157.2 200.0L153.3 203.0L152.8 206.7L152.8 211.0L152.5 212.7L152.5 218.0L152.8 220.0L152.8 227.0L153.2 228.7L153.2 246.0L153.5 248.3L153.5 301.0L153.2 302.3L153.2 305.0L152.5 311.7L150.7 315.3ZM703.3 206.4L701.3 206.5L699.3 205.7L698.7 205.0L698.7 203.8L700.3 202.5L702.0 202.4L704.3 202.7L705.6 203.7L705.8 204.7L705.0 205.7ZM162.0 253.8L160.7 253.7L158.7 253.1L158.2 252.7L158.2 246.3L157.8 244.7L157.8 239.7L157.9 238.7L158.3 238.2L163.3 238.2L164.1 238.7L164.2 241.7L164.5 243.0L164.5 246.0L162.4 253.3ZM558.7 342.8L557.3 342.8L556.7 342.3L556.2 340.0L556.2 333.7L556.9 332.3L558.0 331.9L559.0 332.3L559.5 333.3L559.5 341.7L559.3 342.3ZM908.7 340.7L904.3 340.9L900.3 340.8L897.7 340.1L897.2 339.7L897.2 339.3L897.4 339.0L898.3 338.6L902.3 337.9L903.7 337.8L906.0 337.8L908.3 338.2L910.3 338.6L911.7 339.3L911.3 340.0ZM988.3 361.7L956.0 361.7L955.8 361.7L955.8 357.3L956.2 355.7L956.2 351.3L957.0 350.7L962.0 348.9L974.7 347.1L998.7 340.3L1006.7 338.5L1010.7 337.8L1018.7 337.8L1019.5 338.3L1020.3 340.7L1020.0 341.1L1018.7 341.7L1014.7 343.1L1006.7 343.9L999.3 345.9L997.7 346.6L992.2 350.0L990.5 351.7L988.7 354.0L988.5 361.7ZM785.7 345.4L780.7 345.5L776.0 344.8L774.7 344.2L774.1 343.3L774.4 342.7L775.7 341.9L778.0 341.2L781.0 340.8L785.0 340.8L787.7 341.2L790.1 342.0L791.7 343.0L791.7 343.7L790.0 344.7ZM874.0 345.1L868.3 345.2L865.3 344.8L861.7 344.1L861.2 343.7L861.2 343.3L861.7 342.9L862.7 342.6L865.3 342.2L871.0 342.1L876.3 342.2L879.0 342.6L880.3 343.0L880.7 343.3L880.7 343.7L880.4 344.0L879.0 344.4ZM732.3 346.1L727.3 346.3L722.7 346.1L719.7 345.1L719.2 344.7L719.2 344.3L719.7 343.7L720.7 343.2L726.3 342.5L729.7 342.5L734.0 343.2L735.7 344.3L735.3 345.0ZM719.3 361.7L714.7 361.8L713.8 361.7L713.8 354.3L714.2 353.3L718.3 353.2L719.3 353.5L719.5 355.0L719.5 361.7Z" fill="#555555" fill-rule="evenodd"/>
</g></g>
<line x1="128" y1="218.5" x2="1095.0" y2="218.5" stroke="#707070" stroke-width="1" stroke-dasharray="1 1"/>
<line x1="128" y1="265.5" x2="1095.0" y2="265.5" stroke="#707070" stroke-width="1" stroke-dasharray="1 1"/>
<line x1="128" y1="312.5" x2="1095.0" y2="312.5" stroke="#707070" stroke-width="1" stroke-dasharray="1 1"/>
<line x1="265.50" y1="97.0" x2="265.50" y2="359.1" stroke="#000" stroke-opacity="0.36" stroke-width="1"/>
<line x1="403.50" y1="97.0" x2="403.50" y2="359.1" stroke="#000" stroke-opacity="0.36" stroke-width="1"/>
<line x1="541.50" y1="97.0" x2="541.50" y2="359.1" stroke="#000" stroke-opacity="0.36" stroke-width="1"/>
<line x1="680.50" y1="97.0" x2="680.50" y2="359.1" stroke="#000" stroke-opacity="0.36" stroke-width="1"/>
<line x1="818.50" y1="97.0" x2="818.50" y2="359.1" stroke="#000" stroke-opacity="0.36" stroke-width="1"/>
<line x1="956.50" y1="97.0" x2="956.50" y2="359.1" stroke="#000" stroke-opacity="0.36" stroke-width="1"/>
<rect x="1041" y="357.6" width="3.10" height="1.00" fill="#14d8c4"/>
<rect x="1045.7" y="357.4" width="4.30" height="1.20" fill="#14d8c4"/>
<rect x="1051.9" y="357" width="4.20" height="2.40" fill="#0050ff"/>
<rect x="1057.9" y="357" width="4.20" height="2.40" fill="#0050ff"/>
<rect x="1064.2" y="356" width="4.10" height="3.40" fill="#0050ff"/>
<rect x="1069" y="356" width="3.70" height="3.40" fill="#0050ff"/>
<rect x="1075" y="356" width="3.90" height="3.40" fill="#0050ff"/>
<rect x="1081" y="356" width="3.90" height="3.40" fill="#0050ff"/>
<rect x="1087" y="354.9" width="4.40" height="4.50" fill="#0050ff"/>
<rect x="1091.8" y="354.9" width="2.40" height="4.50" fill="#0050ff"/>
<line x1="173.96" y1="97.0" x2="173.96" y2="359.1" stroke="#111" stroke-width="1.6" stroke-dasharray="5.5 2.4"/>
<rect x="147.9" y="316.2" width="4.20" height="42.90" fill="#0050ff"/>
<rect x="154.2" y="181" width="2.80" height="178.10" fill="#0050ff"/>
<rect x="159.0" y="344" width="4.00" height="15.10" fill="#0050ff"/>
<rect x="165.0" y="357.2" width="4.00" height="1.90" fill="#0050ff"/>
<rect x="171.2" y="349.9" width="3.80" height="9.20" fill="#0050ff"/>
<path d="M127.50 212.50C128.75 213.54 132.50 215.75 135.00 218.75C137.50 221.75 140.00 225.71 142.50 230.50C145.00 235.29 147.50 242.42 150.00 247.50C152.50 252.58 154.67 257.75 157.50 261.00C160.33 264.25 164.08 266.54 167.00 267.00C169.92 267.46 172.00 267.00 175.00 263.75C178.00 260.50 181.67 252.62 185.00 247.50C188.33 242.38 191.50 236.25 195.00 233.00C198.50 229.75 202.88 228.42 206.00 228.00C209.12 227.58 211.00 227.67 213.75 230.50C216.50 233.33 220.04 240.67 222.50 245.00C224.96 249.33 226.50 253.33 228.50 256.50C230.50 259.67 232.58 262.02 234.50 264.00C236.42 265.98 237.00 266.12 240.00 268.40C243.00 270.68 248.25 274.60 252.50 277.70C256.75 280.80 260.50 284.12 265.50 287.00C270.50 289.88 277.17 292.67 282.50 295.00C287.83 297.33 293.75 300.58 297.50 301.00C301.25 301.42 302.50 300.17 305.00 297.50C307.50 294.83 309.17 290.92 312.50 285.00C315.83 279.08 321.67 268.25 325.00 262.00C328.33 255.75 329.38 251.17 332.50 247.50C335.62 243.83 340.42 240.42 343.75 240.00C347.08 239.58 348.96 241.04 352.50 245.00C356.04 248.96 361.25 258.96 365.00 263.75C368.75 268.54 370.21 269.38 375.00 273.75C379.79 278.12 389.58 286.67 393.75 290.00C397.92 293.33 396.46 291.67 400.00 293.75C403.54 295.83 408.96 299.79 415.00 302.50C421.04 305.21 431.46 309.42 436.25 310.00C441.04 310.58 441.46 308.08 443.75 306.00C446.04 303.92 446.67 304.33 450.00 297.50C453.33 290.67 460.00 273.12 463.75 265.00C467.50 256.88 469.38 252.71 472.50 248.75C475.62 244.79 479.58 241.88 482.50 241.25C485.42 240.62 486.67 241.25 490.00 245.00C493.33 248.75 498.75 258.96 502.50 263.75C506.25 268.54 507.29 269.17 512.50 273.75C517.71 278.33 528.96 287.71 533.75 291.25C538.54 294.79 537.71 292.92 541.25 295.00C544.79 297.08 549.58 301.25 555.00 303.75C560.42 306.25 569.17 309.79 573.75 310.00C578.33 310.21 579.58 307.92 582.50 305.00C585.42 302.08 587.29 299.17 591.25 292.50C595.21 285.83 603.12 271.25 606.25 265.00C609.38 258.75 607.71 258.00 610.00 255.00C612.29 252.00 617.08 247.83 620.00 247.00C622.92 246.17 624.17 247.21 627.50 250.00C630.83 252.79 635.83 259.58 640.00 263.75C644.17 267.92 649.17 272.50 652.50 275.00C655.83 277.50 656.46 276.25 660.00 278.75C663.54 281.25 670.42 287.71 673.75 290.00C677.08 292.29 677.71 291.50 680.00 292.50C682.29 293.50 683.75 295.08 687.50 296.00C691.25 296.92 697.92 297.75 702.50 298.00C707.08 298.25 711.67 298.21 715.00 297.50C718.33 296.79 719.58 296.04 722.50 293.75C725.42 291.46 728.75 288.12 732.50 283.75C736.25 279.38 742.08 271.46 745.00 267.50C747.92 263.54 747.71 262.17 750.00 260.00C752.29 257.83 755.83 254.83 758.75 254.50C761.67 254.17 763.96 255.62 767.50 258.00C771.04 260.38 776.25 266.25 780.00 268.75C783.75 271.25 787.08 271.75 790.00 273.00C792.92 274.25 793.54 274.46 797.50 276.25C801.46 278.04 810.00 282.08 813.75 283.75C817.50 285.42 816.88 285.21 820.00 286.25C823.12 287.29 827.92 289.04 832.50 290.00C837.08 290.96 843.54 292.00 847.50 292.00C851.46 292.00 853.54 291.38 856.25 290.00C858.96 288.62 859.79 287.92 863.75 283.75C867.71 279.58 876.46 269.58 880.00 265.00C883.54 260.42 882.50 258.54 885.00 256.25C887.50 253.96 891.88 251.88 895.00 251.25C898.12 250.62 900.83 251.25 903.75 252.50C906.67 253.75 909.58 256.67 912.50 258.75C915.42 260.83 917.92 263.33 921.25 265.00C924.58 266.67 928.96 267.29 932.50 268.75C936.04 270.21 938.96 272.08 942.50 273.75C946.04 275.42 950.62 277.71 953.75 278.75C956.88 279.79 957.71 280.12 961.25 280.00C964.79 279.88 969.38 278.83 975.00 278.00C980.62 277.17 990.83 276.00 995.00 275.00C999.17 274.00 997.50 273.67 1000.00 272.00C1002.50 270.33 1006.25 268.46 1010.00 265.00C1013.75 261.54 1019.17 254.25 1022.50 251.25C1025.83 248.25 1027.71 247.83 1030.00 247.00C1032.29 246.17 1033.96 245.96 1036.25 246.25C1038.54 246.54 1040.62 247.08 1043.75 248.75C1046.88 250.42 1051.88 254.46 1055.00 256.25C1058.12 258.04 1060.00 258.88 1062.50 259.50C1065.00 260.12 1067.08 259.17 1070.00 260.00C1072.92 260.83 1075.92 262.83 1080.00 264.50C1084.08 266.17 1092.08 269.08 1094.50 270.00" fill="none" stroke="#fb0606" stroke-width="3.4" stroke-linejoin="round" stroke-linecap="butt"/>
<text x="161.25" y="286.20" font-size="17.59" fill="#000" stroke="#000" stroke-width="0.3" text-anchor="middle" textLength="21.63" lengthAdjust="spacingAndGlyphs">11</text>
<text x="207.50" y="249.95" font-size="17.59" fill="#000" stroke="#000" stroke-width="0.3" text-anchor="middle" textLength="21.63" lengthAdjust="spacingAndGlyphs">15</text>
<text x="300.00" y="322.70" font-size="17.59" fill="#000" stroke="#000" stroke-width="0.3" text-anchor="middle" textLength="10.82" lengthAdjust="spacingAndGlyphs">7</text>
<text x="345.60" y="261.60" font-size="17.59" fill="#000" stroke="#000" stroke-width="0.3" text-anchor="middle" textLength="21.63" lengthAdjust="spacingAndGlyphs">14</text>
<text x="437.50" y="330.95" font-size="17.59" fill="#000" stroke="#000" stroke-width="0.3" text-anchor="middle" textLength="10.82" lengthAdjust="spacingAndGlyphs">6</text>
<text x="483.00" y="263.70" font-size="17.59" fill="#000" stroke="#000" stroke-width="0.3" text-anchor="middle" textLength="21.63" lengthAdjust="spacingAndGlyphs">14</text>
<text x="576.25" y="330.95" font-size="17.59" fill="#000" stroke="#000" stroke-width="0.3" text-anchor="middle" textLength="10.82" lengthAdjust="spacingAndGlyphs">6</text>
<text x="622.25" y="268.70" font-size="17.59" fill="#000" stroke="#000" stroke-width="0.3" text-anchor="middle" textLength="21.63" lengthAdjust="spacingAndGlyphs">13</text>
<text x="708.75" y="319.20" font-size="17.59" fill="#000" stroke="#000" stroke-width="0.3" text-anchor="middle" textLength="10.82" lengthAdjust="spacingAndGlyphs">7</text>
<text x="760.00" y="276.20" font-size="17.59" fill="#000" stroke="#000" stroke-width="0.3" text-anchor="middle" textLength="21.63" lengthAdjust="spacingAndGlyphs">12</text>
<text x="846.60" y="313.70" font-size="17.59" fill="#000" stroke="#000" stroke-width="0.3" text-anchor="middle" textLength="10.82" lengthAdjust="spacingAndGlyphs">8</text>
<text x="898.40" y="272.45" font-size="17.59" fill="#000" stroke="#000" stroke-width="0.3" text-anchor="middle" textLength="21.63" lengthAdjust="spacingAndGlyphs">13</text>
<text x="962.00" y="301.95" font-size="17.59" fill="#000" stroke="#000" stroke-width="0.3" text-anchor="middle" textLength="10.82" lengthAdjust="spacingAndGlyphs">9</text>
<text x="1036.60" y="267.70" font-size="17.59" fill="#000" stroke="#000" stroke-width="0.3" text-anchor="middle" textLength="21.63" lengthAdjust="spacingAndGlyphs">13</text>
<text x="1093.50" y="292.70" font-size="17.59" fill="#000" stroke="#000" stroke-width="0.3" text-anchor="middle" textLength="21.63" lengthAdjust="spacingAndGlyphs">10</text>
<path d="M127.5 359.1V97.5H1094.5V359.1" fill="none" stroke="#161616" stroke-width="1"/>
<line x1="126.9" y1="359.1" x2="1095.4" y2="359.1" stroke="#000" stroke-width="1.3"/>
<line x1="144.50" y1="359.1" x2="144.50" y2="354.5" stroke="#111" stroke-width="1"/>
<line x1="161.50" y1="359.1" x2="161.50" y2="349.5" stroke="#111" stroke-width="1"/>
<line x1="178.50" y1="359.1" x2="178.50" y2="354.5" stroke="#111" stroke-width="1"/>
<line x1="196.50" y1="359.1" x2="196.50" y2="349.5" stroke="#111" stroke-width="1"/>
<line x1="213.50" y1="359.1" x2="213.50" y2="354.5" stroke="#111" stroke-width="1"/>
<line x1="230.50" y1="359.1" x2="230.50" y2="349.5" stroke="#111" stroke-width="1"/>
<line x1="248.50" y1="359.1" x2="248.50" y2="354.5" stroke="#111" stroke-width="1"/>
<line x1="282.50" y1="359.1" x2="282.50" y2="354.5" stroke="#111" stroke-width="1"/>
<line x1="299.50" y1="359.1" x2="299.50" y2="349.5" stroke="#111" stroke-width="1"/>
<line x1="317.50" y1="359.1" x2="317.50" y2="354.5" stroke="#111" stroke-width="1"/>
<line x1="334.50" y1="359.1" x2="334.50" y2="349.5" stroke="#111" stroke-width="1"/>
<line x1="351.50" y1="359.1" x2="351.50" y2="354.5" stroke="#111" stroke-width="1"/>
<line x1="369.50" y1="359.1" x2="369.50" y2="349.5" stroke="#111" stroke-width="1"/>
<line x1="386.50" y1="359.1" x2="386.50" y2="354.5" stroke="#111" stroke-width="1"/>
<line x1="420.50" y1="359.1" x2="420.50" y2="354.5" stroke="#111" stroke-width="1"/>
<line x1="438.50" y1="359.1" x2="438.50" y2="349.5" stroke="#111" stroke-width="1"/>
<line x1="455.50" y1="359.1" x2="455.50" y2="354.5" stroke="#111" stroke-width="1"/>
<line x1="472.50" y1="359.1" x2="472.50" y2="349.5" stroke="#111" stroke-width="1"/>
<line x1="490.50" y1="359.1" x2="490.50" y2="354.5" stroke="#111" stroke-width="1"/>
<line x1="507.50" y1="359.1" x2="507.50" y2="349.5" stroke="#111" stroke-width="1"/>
<line x1="524.50" y1="359.1" x2="524.50" y2="354.5" stroke="#111" stroke-width="1"/>
<line x1="559.50" y1="359.1" x2="559.50" y2="354.5" stroke="#111" stroke-width="1"/>
<line x1="576.50" y1="359.1" x2="576.50" y2="349.5" stroke="#111" stroke-width="1"/>
<line x1="593.50" y1="359.1" x2="593.50" y2="354.5" stroke="#111" stroke-width="1"/>
<line x1="611.50" y1="359.1" x2="611.50" y2="349.5" stroke="#111" stroke-width="1"/>
<line x1="628.50" y1="359.1" x2="628.50" y2="354.5" stroke="#111" stroke-width="1"/>
<line x1="645.50" y1="359.1" x2="645.50" y2="349.5" stroke="#111" stroke-width="1"/>
<line x1="662.50" y1="359.1" x2="662.50" y2="354.5" stroke="#111" stroke-width="1"/>
<line x1="697.50" y1="359.1" x2="697.50" y2="354.5" stroke="#111" stroke-width="1"/>
<line x1="714.50" y1="359.1" x2="714.50" y2="349.5" stroke="#111" stroke-width="1"/>
<line x1="732.50" y1="359.1" x2="732.50" y2="354.5" stroke="#111" stroke-width="1"/>
<line x1="749.50" y1="359.1" x2="749.50" y2="349.5" stroke="#111" stroke-width="1"/>
<line x1="766.50" y1="359.1" x2="766.50" y2="354.5" stroke="#111" stroke-width="1"/>
<line x1="783.50" y1="359.1" x2="783.50" y2="349.5" stroke="#111" stroke-width="1"/>
<line x1="801.50" y1="359.1" x2="801.50" y2="354.5" stroke="#111" stroke-width="1"/>
<line x1="835.50" y1="359.1" x2="835.50" y2="354.5" stroke="#111" stroke-width="1"/>
<line x1="853.50" y1="359.1" x2="853.50" y2="349.5" stroke="#111" stroke-width="1"/>
<line x1="870.50" y1="359.1" x2="870.50" y2="354.5" stroke="#111" stroke-width="1"/>
<line x1="887.50" y1="359.1" x2="887.50" y2="349.5" stroke="#111" stroke-width="1"/>
<line x1="904.50" y1="359.1" x2="904.50" y2="354.5" stroke="#111" stroke-width="1"/>
<line x1="922.50" y1="359.1" x2="922.50" y2="349.5" stroke="#111" stroke-width="1"/>
<line x1="939.50" y1="359.1" x2="939.50" y2="354.5" stroke="#111" stroke-width="1"/>
<line x1="974.50" y1="359.1" x2="974.50" y2="354.5" stroke="#111" stroke-width="1"/>
<line x1="991.50" y1="359.1" x2="991.50" y2="349.5" stroke="#111" stroke-width="1"/>
<line x1="1008.50" y1="359.1" x2="1008.50" y2="354.5" stroke="#111" stroke-width="1"/>
<line x1="1025.50" y1="359.1" x2="1025.50" y2="349.5" stroke="#111" stroke-width="1"/>
<line x1="1043.50" y1="359.1" x2="1043.50" y2="354.5" stroke="#111" stroke-width="1"/>
<line x1="1060.50" y1="359.1" x2="1060.50" y2="349.5" stroke="#111" stroke-width="1"/>
<line x1="1077.50" y1="359.1" x2="1077.50" y2="354.5" stroke="#111" stroke-width="1"/>
<text x="160.97" y="376.60" font-size="17.59" fill="#000" stroke="#000" stroke-width="0.3" text-anchor="middle" textLength="21.63" lengthAdjust="spacingAndGlyphs">06</text>
<text x="195.54" y="376.60" font-size="17.59" fill="#000" stroke="#000" stroke-width="0.3" text-anchor="middle" textLength="21.63" lengthAdjust="spacingAndGlyphs">12</text>
<text x="230.11" y="376.60" font-size="17.59" fill="#000" stroke="#000" stroke-width="0.3" text-anchor="middle" textLength="21.63" lengthAdjust="spacingAndGlyphs">18</text>
<text x="299.26" y="376.60" font-size="17.59" fill="#000" stroke="#000" stroke-width="0.3" text-anchor="middle" textLength="21.63" lengthAdjust="spacingAndGlyphs">06</text>
<text x="333.83" y="376.60" font-size="17.59" fill="#000" stroke="#000" stroke-width="0.3" text-anchor="middle" textLength="21.63" lengthAdjust="spacingAndGlyphs">12</text>
<text x="368.40" y="376.60" font-size="17.59" fill="#000" stroke="#000" stroke-width="0.3" text-anchor="middle" textLength="21.63" lengthAdjust="spacingAndGlyphs">18</text>
<text x="265.29" y="376.60" font-size="17.59" fill="#000" stroke="#000" stroke-width="0.3" text-anchor="middle" textLength="24.05" lengthAdjust="spacingAndGlyphs">tor</text>
<text x="437.54" y="376.60" font-size="17.59" fill="#000" stroke="#000" stroke-width="0.3" text-anchor="middle" textLength="21.63" lengthAdjust="spacingAndGlyphs">06</text>
<text x="472.11" y="376.60" font-size="17.59" fill="#000" stroke="#000" stroke-width="0.3" text-anchor="middle" textLength="21.63" lengthAdjust="spacingAndGlyphs">12</text>
<text x="506.69" y="376.60" font-size="17.59" fill="#000" stroke="#000" stroke-width="0.3" text-anchor="middle" textLength="21.63" lengthAdjust="spacingAndGlyphs">18</text>
<text x="403.57" y="376.60" font-size="17.59" fill="#000" stroke="#000" stroke-width="0.3" text-anchor="middle" textLength="25.93" lengthAdjust="spacingAndGlyphs">sre</text>
<text x="575.83" y="376.60" font-size="17.59" fill="#000" stroke="#000" stroke-width="0.3" text-anchor="middle" textLength="21.63" lengthAdjust="spacingAndGlyphs">06</text>
<text x="610.40" y="376.60" font-size="17.59" fill="#000" stroke="#000" stroke-width="0.3" text-anchor="middle" textLength="21.63" lengthAdjust="spacingAndGlyphs">12</text>
<text x="644.97" y="376.60" font-size="17.59" fill="#000" stroke="#000" stroke-width="0.3" text-anchor="middle" textLength="21.63" lengthAdjust="spacingAndGlyphs">18</text>
<text x="541.86" y="376.60" font-size="17.59" fill="#000" stroke="#000" stroke-width="0.3" text-anchor="middle" textLength="26.47" lengthAdjust="spacingAndGlyphs">čet</text>
<text x="714.11" y="376.60" font-size="17.59" fill="#000" stroke="#000" stroke-width="0.3" text-anchor="middle" textLength="21.63" lengthAdjust="spacingAndGlyphs">06</text>
<text x="748.69" y="376.60" font-size="17.59" fill="#000" stroke="#000" stroke-width="0.3" text-anchor="middle" textLength="21.63" lengthAdjust="spacingAndGlyphs">12</text>
<text x="783.26" y="376.60" font-size="17.59" fill="#000" stroke="#000" stroke-width="0.3" text-anchor="middle" textLength="21.63" lengthAdjust="spacingAndGlyphs">18</text>
<text x="680.14" y="376.60" font-size="17.59" fill="#000" stroke="#000" stroke-width="0.3" text-anchor="middle" textLength="27.92" lengthAdjust="spacingAndGlyphs">pet</text>
<text x="852.40" y="376.60" font-size="17.59" fill="#000" stroke="#000" stroke-width="0.3" text-anchor="middle" textLength="21.63" lengthAdjust="spacingAndGlyphs">06</text>
<text x="886.97" y="376.60" font-size="17.59" fill="#000" stroke="#000" stroke-width="0.3" text-anchor="middle" textLength="21.63" lengthAdjust="spacingAndGlyphs">12</text>
<text x="921.54" y="376.60" font-size="17.59" fill="#000" stroke="#000" stroke-width="0.3" text-anchor="middle" textLength="21.63" lengthAdjust="spacingAndGlyphs">18</text>
<text x="818.43" y="376.60" font-size="17.59" fill="#000" stroke="#000" stroke-width="0.3" text-anchor="middle" textLength="30.05" lengthAdjust="spacingAndGlyphs">sob</text>
<text x="990.69" y="376.60" font-size="17.59" fill="#000" stroke="#000" stroke-width="0.3" text-anchor="middle" textLength="21.63" lengthAdjust="spacingAndGlyphs">06</text>
<text x="1025.26" y="376.60" font-size="17.59" fill="#000" stroke="#000" stroke-width="0.3" text-anchor="middle" textLength="21.63" lengthAdjust="spacingAndGlyphs">12</text>
<text x="1059.83" y="376.60" font-size="17.59" fill="#000" stroke="#000" stroke-width="0.3" text-anchor="middle" textLength="21.63" lengthAdjust="spacingAndGlyphs">18</text>
<text x="956.71" y="376.60" font-size="17.59" fill="#000" stroke="#000" stroke-width="0.3" text-anchor="middle" textLength="32.03" lengthAdjust="spacingAndGlyphs">ned</text>
<text x="196.14" y="68.90" font-size="18.32" fill="#111" stroke="#111" stroke-width="0.3" text-anchor="middle" textLength="97.28" lengthAdjust="spacingAndGlyphs">ponedeljek</text>
<text x="195.34" y="89.80" font-size="18.32" fill="#111" stroke="#111" stroke-width="0.3" text-anchor="middle" textLength="50.67" lengthAdjust="spacingAndGlyphs">03.11</text>
<text x="334.43" y="68.90" font-size="18.32" fill="#111" stroke="#111" stroke-width="0.3" text-anchor="middle" textLength="45.80" lengthAdjust="spacingAndGlyphs">torek</text>
<text x="333.63" y="89.80" font-size="18.32" fill="#111" stroke="#111" stroke-width="0.3" text-anchor="middle" textLength="50.67" lengthAdjust="spacingAndGlyphs">04.11</text>
<text x="472.71" y="68.90" font-size="18.32" fill="#111" stroke="#111" stroke-width="0.3" text-anchor="middle" textLength="49.08" lengthAdjust="spacingAndGlyphs">sreda</text>
<text x="471.91" y="89.80" font-size="18.32" fill="#111" stroke="#111" stroke-width="0.3" text-anchor="middle" textLength="50.67" lengthAdjust="spacingAndGlyphs">05.11</text>
<text x="611.00" y="68.90" font-size="18.32" fill="#111" stroke="#111" stroke-width="0.3" text-anchor="middle" textLength="62.92" lengthAdjust="spacingAndGlyphs">četrtek</text>
<text x="610.20" y="89.80" font-size="18.32" fill="#111" stroke="#111" stroke-width="0.3" text-anchor="middle" textLength="50.67" lengthAdjust="spacingAndGlyphs">06.11</text>
<text x="749.29" y="68.90" font-size="18.32" fill="#111" stroke="#111" stroke-width="0.3" text-anchor="middle" textLength="50.21" lengthAdjust="spacingAndGlyphs">petek</text>
<text x="748.49" y="89.80" font-size="18.32" fill="#111" stroke="#111" stroke-width="0.3" text-anchor="middle" textLength="50.67" lengthAdjust="spacingAndGlyphs">07.11</text>
<text x="887.57" y="68.90" font-size="18.32" fill="#cc0000" stroke="#cc0000" stroke-width="0.3" text-anchor="middle" textLength="59.90" lengthAdjust="spacingAndGlyphs">sobota</text>
<text x="886.77" y="89.80" font-size="18.32" fill="#cc0000" stroke="#cc0000" stroke-width="0.3" text-anchor="middle" textLength="50.67" lengthAdjust="spacingAndGlyphs">08.11</text>
<text x="1025.86" y="68.90" font-size="18.32" fill="#cc0000" stroke="#cc0000" stroke-width="0.3" text-anchor="middle" textLength="64.92" lengthAdjust="spacingAndGlyphs">nedelja</text>
<text x="1025.06" y="89.80" font-size="18.32" fill="#cc0000" stroke="#cc0000" stroke-width="0.3" text-anchor="middle" textLength="50.67" lengthAdjust="spacingAndGlyphs">09.11</text>
<use href="#moon" x="137.99" y="0"/>
<path d="M135.87 119.10C135.85 117.27 135.68 117.90 136.25 116.59C136.83 115.28 136.61 115.52 137.79 114.73C138.98 113.94 138.73 114.06 140.21 113.96C141.69 113.87 141.75 114.96 142.74 114.40C143.73 113.84 142.65 113.22 143.51 112.11C144.36 110.99 144.08 111.26 145.59 110.68C147.11 110.11 146.94 110.09 148.56 110.19C150.17 110.29 149.69 110.24 150.98 111.01C152.26 111.78 151.92 111.51 152.84 112.76C153.77 114.01 153.53 114.05 154.05 115.17C154.58 116.28 153.84 115.92 154.60 116.48C155.36 117.04 155.43 116.53 156.58 117.03C157.73 117.52 157.54 117.20 158.45 118.12C159.35 119.04 159.32 118.81 159.60 120.09C159.88 121.37 159.89 121.14 159.38 122.38C158.87 123.63 159.04 123.34 157.90 124.24C156.76 125.14 157.27 124.96 155.59 125.39C153.91 125.82 153.91 125.81 152.30 125.66C150.68 125.52 151.46 124.98 150.21 124.90C148.96 124.82 149.77 125.16 148.12 125.39C146.47 125.62 146.23 125.81 144.71 125.66C143.20 125.52 144.32 124.98 143.07 124.90C141.81 124.82 142.12 125.45 140.54 125.39C138.96 125.32 139.06 125.48 137.79 124.68C136.52 123.88 136.89 124.38 136.31 122.71C135.73 121.04 135.89 120.94 135.87 119.10Z" fill="#d2d2d2" stroke="#2e4d74" stroke-width="1.50" stroke-linejoin="round"/><path d="M154.60 116.48C153.88 116.38 153.47 115.92 152.19 116.15C150.90 116.38 151.08 116.46 150.32 117.24C149.56 118.03 149.66 118.09 149.66 118.77C149.66 119.46 150.12 119.31 150.32 119.54" fill="none" stroke="#2e4d74" stroke-width="1.50" stroke-linecap="round"/>
<line x1="139.69" y1="128.6" x2="138.39" y2="134.2" stroke="#2e4d74" stroke-width="1.9"/>
<line x1="143.69" y1="128.6" x2="142.39" y2="134.2" stroke="#2e4d74" stroke-width="1.9"/>
<line x1="147.69" y1="128.6" x2="146.39" y2="134.2" stroke="#2e4d74" stroke-width="1.9"/>
<line x1="151.69" y1="128.6" x2="150.39" y2="134.2" stroke="#2e4d74" stroke-width="1.9"/>
<path d="M169.81 123.70C168.65 123.58 167.98 123.99 165.96 123.30C163.93 122.61 164.26 123.11 163.06 121.40C161.86 119.69 161.96 119.73 161.96 117.60C161.96 115.47 161.62 115.98 163.06 114.30C164.50 112.62 164.51 112.60 166.76 112.00C169.01 111.40 169.42 112.21 170.56 112.30L170.56 112.30C170.83 111.22 170.26 110.74 171.46 108.70C172.66 106.66 172.58 106.69 174.56 105.50C176.54 104.31 175.99 104.66 178.06 104.75C180.13 104.84 179.75 104.64 181.46 105.80C183.17 106.95 183.07 107.76 183.76 108.60L183.76 108.60C184.82 108.48 185.16 107.77 187.31 108.20C189.45 108.64 188.97 108.43 190.91 110.05C192.84 111.67 192.66 111.23 193.76 113.60C194.85 115.97 194.65 115.55 194.56 117.95C194.47 120.35 194.30 119.84 193.46 121.60C192.62 123.35 192.27 123.14 191.76 123.80Z" fill="#d2d2d2" stroke="none"/><path d="M169.81 123.70C168.65 123.58 167.98 123.99 165.96 123.30C163.93 122.61 164.26 123.11 163.06 121.40C161.86 119.69 161.96 119.73 161.96 117.60C161.96 115.47 161.62 115.98 163.06 114.30C164.50 112.62 164.51 112.60 166.76 112.00C169.01 111.40 169.42 112.21 170.56 112.30" fill="none" stroke="#2a5caa" stroke-width="1.45" stroke-linecap="round"/><path d="M170.56 112.30C170.83 111.22 170.26 110.74 171.46 108.70C172.66 106.66 172.58 106.69 174.56 105.50C176.54 104.31 175.99 104.66 178.06 104.75C180.13 104.84 179.75 104.64 181.46 105.80C183.17 106.95 183.07 107.76 183.76 108.60" fill="none" stroke="#2a5caa" stroke-width="1.45" stroke-linecap="round"/><path d="M183.76 108.60C184.82 108.48 185.16 107.77 187.31 108.20C189.45 108.64 188.97 108.43 190.91 110.05C192.84 111.67 192.66 111.23 193.76 113.60C194.85 115.97 194.65 115.55 194.56 117.95C194.47 120.35 194.30 119.84 193.46 121.60C192.62 123.35 192.27 123.14 191.76 123.80" fill="none" stroke="#2a5caa" stroke-width="1.45" stroke-linecap="round"/><path d="M170.56 112.3C170.96 113.4 171.76 114.5 172.86 115.3" fill="none" stroke="#2a5caa" stroke-width="1.45" stroke-linecap="round"/><path d="M183.76 108.6C184.16 109.8 183.96 110.8 183.26 111.8" fill="none" stroke="#2a5caa" stroke-width="1.45" stroke-linecap="round"/>
<path d="M169.93 119.61C169.91 117.91 169.74 118.50 170.30 117.28C170.85 116.07 170.64 116.29 171.78 115.56C172.92 114.83 172.68 114.94 174.11 114.85C175.54 114.76 175.59 115.77 176.54 115.26C177.49 114.74 176.46 114.16 177.28 113.13C178.11 112.10 177.83 112.34 179.29 111.81C180.75 111.28 180.60 111.26 182.15 111.36C183.71 111.45 183.24 111.40 184.48 112.12C185.72 112.83 185.39 112.58 186.28 113.74C187.17 114.89 186.93 114.93 187.44 115.97C187.95 117.00 187.24 116.67 187.97 117.18C188.70 117.70 188.77 117.23 189.88 117.69C190.99 118.15 190.80 117.85 191.68 118.70C192.55 119.55 192.52 119.34 192.79 120.53C193.06 121.71 193.07 121.50 192.58 122.65C192.08 123.81 192.24 123.54 191.15 124.38C190.05 125.21 190.54 125.05 188.92 125.44C187.30 125.84 187.30 125.83 185.75 125.69C184.19 125.56 184.94 125.06 183.74 124.99C182.53 124.91 183.31 125.23 181.73 125.44C180.14 125.65 179.91 125.83 178.45 125.69C176.99 125.56 178.07 125.06 176.86 124.99C175.65 124.91 175.95 125.50 174.43 125.44C172.90 125.38 173.00 125.53 171.78 124.78C170.56 124.04 170.91 124.51 170.35 122.96C169.80 121.41 169.94 121.32 169.93 119.61Z" fill="#fff" stroke="#2a5caa" stroke-width="1.50" stroke-linejoin="round"/><path d="M187.97 117.18C187.27 117.09 186.88 116.67 185.64 116.88C184.41 117.09 184.57 117.16 183.84 117.89C183.11 118.62 183.21 118.67 183.21 119.31C183.21 119.95 183.65 119.81 183.84 120.02" fill="none" stroke="#2a5caa" stroke-width="1.50" stroke-linecap="round"/>
<line x1="177.06" y1="129.3" x2="175.76" y2="133.6" stroke="#2a5caa" stroke-width="1.9"/>
<line x1="181.26" y1="129.3" x2="179.96" y2="133.6" stroke="#2a5caa" stroke-width="1.9"/>
<use href="#sun" x="216.73" y="113.30"/>
<path d="M197.78 121.69C197.77 120.03 197.61 120.60 198.13 119.42C198.66 118.23 198.46 118.45 199.55 117.74C200.64 117.03 200.41 117.14 201.77 117.05C203.13 116.96 203.18 117.95 204.09 117.44C205.00 116.94 204.01 116.38 204.79 115.37C205.58 114.36 205.32 114.61 206.71 114.09C208.10 113.57 207.95 113.56 209.44 113.64C210.92 113.73 210.47 113.69 211.66 114.38C212.84 115.08 212.52 114.84 213.37 115.96C214.22 117.09 214.00 117.13 214.48 118.13C214.96 119.14 214.29 118.81 214.98 119.32C215.68 119.82 215.74 119.37 216.80 119.81C217.86 120.25 217.68 119.97 218.52 120.80C219.35 121.63 219.32 121.42 219.58 122.57C219.83 123.73 219.84 123.52 219.37 124.65C218.90 125.77 219.06 125.51 218.01 126.32C216.97 127.14 217.44 126.97 215.89 127.36C214.35 127.74 214.35 127.74 212.87 127.61C211.38 127.47 212.10 126.99 210.95 126.91C209.80 126.84 210.55 127.15 209.03 127.36C207.52 127.57 207.30 127.74 205.90 127.61C204.51 127.47 205.54 126.99 204.39 126.91C203.24 126.84 203.52 127.42 202.07 127.36C200.62 127.30 200.71 127.44 199.55 126.72C198.38 125.99 198.72 126.45 198.19 124.94C197.66 123.43 197.80 123.34 197.78 121.69Z" fill="#d2d2d2" stroke="#2a5caa" stroke-width="1.45" stroke-linejoin="round"/><path d="M214.98 119.32C214.32 119.23 213.95 118.81 212.76 119.02C211.58 119.23 211.75 119.30 211.05 120.01C210.35 120.72 210.44 120.77 210.44 121.39C210.44 122.01 210.87 121.87 211.05 122.08" fill="none" stroke="#2a5caa" stroke-width="1.45" stroke-linecap="round"/>
<use href="#moon" x="247.80" y="0"/>
<use href="#moon" x="280.57" y="0"/>
<line x1="264.27" y1="115.9" x2="301.37" y2="115.9" stroke="#2f4d74" stroke-width="1.5"/>
<line x1="265.77" y1="119.1" x2="300.57" y2="119.1" stroke="#2f4d74" stroke-width="1.5"/>
<line x1="267.47" y1="123.7" x2="299.47" y2="123.7" stroke="#2f4d74" stroke-width="2.7"/>
<use href="#sun" x="320.44" y="113.30"/>
<path d="M301.50 121.69C301.48 120.03 301.32 120.60 301.85 119.42C302.38 118.23 302.17 118.45 303.26 117.74C304.35 117.03 304.12 117.14 305.48 117.05C306.84 116.96 306.89 117.95 307.80 117.44C308.71 116.94 307.72 116.38 308.51 115.37C309.30 114.36 309.03 114.61 310.43 114.09C311.82 113.57 311.67 113.56 313.15 113.64C314.63 113.73 314.19 113.69 315.37 114.38C316.55 115.08 316.24 114.84 317.08 115.96C317.93 117.09 317.71 117.13 318.19 118.13C318.68 119.14 318.00 118.81 318.70 119.32C319.40 119.82 319.46 119.37 320.52 119.81C321.57 120.25 321.40 119.97 322.23 120.80C323.06 121.63 323.03 121.42 323.29 122.57C323.55 123.73 323.56 123.52 323.09 124.65C322.62 125.77 322.77 125.51 321.73 126.32C320.68 127.14 321.15 126.97 319.61 127.36C318.06 127.74 318.06 127.74 316.58 127.61C315.10 127.47 315.81 126.99 314.66 126.91C313.51 126.84 314.26 127.15 312.75 127.36C311.23 127.57 311.01 127.74 309.62 127.61C308.23 127.47 309.25 126.99 308.10 126.91C306.95 126.84 307.24 127.42 305.78 127.36C304.33 127.30 304.43 127.44 303.26 126.72C302.10 125.99 302.43 126.45 301.90 124.94C301.37 123.43 301.51 123.34 301.50 121.69Z" fill="#d2d2d2" stroke="#2a5caa" stroke-width="1.45" stroke-linejoin="round"/><path d="M318.70 119.32C318.03 119.23 317.66 118.81 316.48 119.02C315.30 119.23 315.46 119.30 314.76 120.01C314.07 120.72 314.16 120.77 314.16 121.39C314.16 122.01 314.58 121.87 314.76 122.08" fill="none" stroke="#2a5caa" stroke-width="1.45" stroke-linecap="round"/>
<use href="#sun" x="351.21" y="113.20"/>
<use href="#moon" x="386.09" y="0"/>
<use href="#moon" x="417.16" y="0"/>
<path d="M415.63 120.42C415.62 119.17 415.50 119.60 415.91 118.70C416.32 117.81 416.16 117.97 417.01 117.43C417.87 116.90 417.69 116.98 418.75 116.91C419.82 116.84 419.86 117.59 420.57 117.21C421.28 116.83 420.50 116.40 421.12 115.64C421.73 114.88 421.53 115.06 422.62 114.67C423.71 114.28 423.59 114.27 424.75 114.34C425.91 114.40 425.56 114.37 426.49 114.90C427.41 115.42 427.16 115.24 427.83 116.09C428.49 116.94 428.32 116.97 428.70 117.73C429.07 118.49 428.55 118.25 429.09 118.63C429.63 119.01 429.68 118.67 430.51 119.00C431.34 119.34 431.20 119.12 431.85 119.75C432.50 120.38 432.48 120.22 432.68 121.09C432.88 121.97 432.89 121.81 432.52 122.66C432.16 123.51 432.27 123.31 431.46 123.93C430.64 124.55 431.01 124.42 429.80 124.71C428.59 125.01 428.59 125.00 427.43 124.90C426.27 124.80 426.83 124.43 425.93 124.38C425.03 124.32 425.62 124.56 424.43 124.71C423.25 124.87 423.08 125.00 421.99 124.90C420.90 124.80 421.70 124.43 420.80 124.38C419.90 124.32 420.12 124.76 418.99 124.71C417.85 124.67 417.93 124.78 417.01 124.23C416.10 123.68 416.36 124.03 415.95 122.89C415.53 121.74 415.65 121.68 415.63 120.42Z" fill="#d2d2d2" stroke="#2e4d74" stroke-width="1.50" stroke-linejoin="round"/><path d="M429.09 118.63C428.57 118.56 428.28 118.25 427.35 118.41C426.43 118.56 426.56 118.61 426.01 119.15C425.47 119.69 425.54 119.73 425.54 120.20C425.54 120.67 425.87 120.56 426.01 120.72" fill="none" stroke="#2e4d74" stroke-width="1.50" stroke-linecap="round"/>
<use href="#sun" x="453.23" y="113.30"/>
<path d="M453.10 120.42C453.09 119.17 452.97 119.60 453.37 118.70C453.78 117.81 453.62 117.97 454.47 117.43C455.31 116.90 455.13 116.98 456.18 116.91C457.24 116.84 457.28 117.59 457.98 117.21C458.68 116.83 457.92 116.40 458.52 115.64C459.13 114.88 458.93 115.06 460.01 114.67C461.08 114.28 460.97 114.27 462.11 114.34C463.26 114.40 462.92 114.37 463.83 114.90C464.74 115.42 464.50 115.24 465.16 116.09C465.81 116.94 465.64 116.97 466.02 117.73C466.39 118.49 465.87 118.25 466.41 118.63C466.94 119.01 466.99 118.67 467.81 119.00C468.63 119.34 468.49 119.12 469.14 119.75C469.78 120.38 469.76 120.22 469.96 121.09C470.15 121.97 470.16 121.81 469.80 122.66C469.44 123.51 469.55 123.31 468.75 123.93C467.94 124.55 468.30 124.42 467.11 124.71C465.91 125.01 465.91 125.00 464.77 124.90C463.62 124.80 464.17 124.43 463.28 124.38C462.39 124.32 462.97 124.56 461.80 124.71C460.63 124.87 460.46 125.00 459.38 124.90C458.31 124.80 459.10 124.43 458.21 124.38C457.32 124.32 457.54 124.76 456.42 124.71C455.29 124.67 455.37 124.78 454.47 124.23C453.57 123.68 453.82 124.03 453.41 122.89C453.00 121.74 453.11 121.68 453.10 120.42Z" fill="#fff" stroke="#2a5caa" stroke-width="1.50" stroke-linejoin="round"/><path d="M466.41 118.63C465.89 118.56 465.60 118.25 464.69 118.41C463.78 118.56 463.90 118.61 463.36 119.15C462.82 119.69 462.89 119.73 462.89 120.20C462.89 120.67 463.22 120.56 463.36 120.72" fill="none" stroke="#2a5caa" stroke-width="1.50" stroke-linecap="round"/>
<use href="#sun" x="489.50" y="113.20"/>
<use href="#moon" x="520.87" y="0"/>
<path d="M519.35 120.42C519.34 119.17 519.21 119.60 519.62 118.70C520.04 117.81 519.88 117.97 520.73 117.43C521.58 116.90 521.40 116.98 522.47 116.91C523.53 116.84 523.57 117.59 524.28 117.21C524.99 116.83 524.22 116.40 524.83 115.64C525.45 114.88 525.24 115.06 526.33 114.67C527.42 114.28 527.30 114.27 528.46 114.34C529.62 114.40 529.28 114.37 530.20 114.90C531.12 115.42 530.88 115.24 531.54 116.09C532.20 116.94 532.03 116.97 532.41 117.73C532.79 118.49 532.26 118.25 532.80 118.63C533.35 119.01 533.40 118.67 534.22 119.00C535.05 119.34 534.92 119.12 535.57 119.75C536.22 120.38 536.19 120.22 536.40 121.09C536.60 121.97 536.60 121.81 536.24 122.66C535.87 123.51 535.99 123.31 535.17 123.93C534.36 124.55 534.72 124.42 533.51 124.71C532.31 125.01 532.31 125.00 531.15 124.90C529.99 124.80 530.55 124.43 529.65 124.38C528.75 124.32 529.33 124.56 528.15 124.71C526.96 124.87 526.79 125.00 525.70 124.90C524.61 124.80 525.42 124.43 524.52 124.38C523.62 124.32 523.84 124.76 522.70 124.71C521.57 124.67 521.64 124.78 520.73 124.23C519.82 123.68 520.08 124.03 519.66 122.89C519.25 121.74 519.36 121.68 519.35 120.42Z" fill="#d2d2d2" stroke="#2e4d74" stroke-width="1.50" stroke-linejoin="round"/><path d="M532.80 118.63C532.28 118.56 531.99 118.25 531.07 118.41C530.14 118.56 530.27 118.61 529.73 119.15C529.18 119.69 529.25 119.73 529.25 120.20C529.25 120.67 529.58 120.56 529.73 120.72" fill="none" stroke="#2e4d74" stroke-width="1.50" stroke-linecap="round"/>
<use href="#moon" x="557.14" y="0"/>
<line x1="540.84" y1="115.9" x2="577.94" y2="115.9" stroke="#2f4d74" stroke-width="1.5"/>
<line x1="542.34" y1="119.1" x2="577.14" y2="119.1" stroke="#2f4d74" stroke-width="1.5"/>
<line x1="544.04" y1="123.7" x2="576.04" y2="123.7" stroke="#2f4d74" stroke-width="2.7"/>
<use href="#sun" x="597.01" y="113.30"/>
<path d="M578.07 121.69C578.05 120.03 577.89 120.60 578.42 119.42C578.95 118.23 578.74 118.45 579.83 117.74C580.92 117.03 580.69 117.14 582.05 117.05C583.41 116.96 583.47 117.95 584.37 117.44C585.28 116.94 584.29 116.38 585.08 115.37C585.87 114.36 585.60 114.61 587.00 114.09C588.39 113.57 588.24 113.56 589.72 113.64C591.20 113.73 590.76 113.69 591.94 114.38C593.12 115.08 592.81 114.84 593.66 115.96C594.50 117.09 594.28 117.13 594.77 118.13C595.25 119.14 594.57 118.81 595.27 119.32C595.97 119.82 596.03 119.37 597.09 119.81C598.15 120.25 597.97 119.97 598.80 120.80C599.63 121.63 599.60 121.42 599.86 122.57C600.12 123.73 600.13 123.52 599.66 124.65C599.19 125.77 599.34 125.51 598.30 126.32C597.25 127.14 597.72 126.97 596.18 127.36C594.63 127.74 594.63 127.74 593.15 127.61C591.67 127.47 592.38 126.99 591.23 126.91C590.08 126.84 590.83 127.15 589.32 127.36C587.80 127.57 587.58 127.74 586.19 127.61C584.80 127.47 585.83 126.99 584.68 126.91C583.53 126.84 583.81 127.42 582.36 127.36C580.90 127.30 581.00 127.44 579.83 126.72C578.67 125.99 579.00 126.45 578.47 124.94C577.94 123.43 578.08 123.34 578.07 121.69Z" fill="#d2d2d2" stroke="#2a5caa" stroke-width="1.45" stroke-linejoin="round"/><path d="M595.27 119.32C594.60 119.23 594.23 118.81 593.05 119.02C591.87 119.23 592.03 119.30 591.34 120.01C590.64 120.72 590.73 120.77 590.73 121.39C590.73 122.01 591.15 121.87 591.34 122.08" fill="none" stroke="#2a5caa" stroke-width="1.45" stroke-linecap="round"/>
<use href="#sun" x="626.09" y="113.30"/>
<path d="M625.96 120.42C625.95 119.17 625.82 119.60 626.23 118.70C626.64 117.81 626.48 117.97 627.32 117.43C628.17 116.90 627.99 116.98 629.04 116.91C630.09 116.84 630.13 117.59 630.84 117.21C631.54 116.83 630.77 116.40 631.38 115.64C631.99 114.88 631.79 115.06 632.86 114.67C633.94 114.28 633.82 114.27 634.97 114.34C636.12 114.40 635.77 114.37 636.69 114.90C637.60 115.42 637.36 115.24 638.01 116.09C638.67 116.94 638.50 116.97 638.87 117.73C639.25 118.49 638.72 118.25 639.26 118.63C639.80 119.01 639.85 118.67 640.67 119.00C641.49 119.34 641.35 119.12 641.99 119.75C642.64 120.38 642.61 120.22 642.81 121.09C643.01 121.97 643.02 121.81 642.66 122.66C642.29 123.51 642.41 123.31 641.60 123.93C640.80 124.55 641.16 124.42 639.96 124.71C638.77 125.01 638.77 125.00 637.62 124.90C636.48 124.80 637.03 124.43 636.14 124.38C635.25 124.32 635.83 124.56 634.66 124.71C633.49 124.87 633.32 125.00 632.24 124.90C631.16 124.80 631.96 124.43 631.07 124.38C630.18 124.32 630.40 124.76 629.27 124.71C628.15 124.67 628.23 124.78 627.32 124.23C626.42 123.68 626.68 124.03 626.27 122.89C625.86 121.74 625.97 121.68 625.96 120.42Z" fill="#fff" stroke="#2a5caa" stroke-width="1.50" stroke-linejoin="round"/><path d="M639.26 118.63C638.75 118.56 638.46 118.25 637.55 118.41C636.63 118.56 636.76 118.61 636.22 119.15C635.68 119.69 635.75 119.73 635.75 120.20C635.75 120.67 636.08 120.56 636.22 120.72" fill="none" stroke="#2a5caa" stroke-width="1.50" stroke-linecap="round"/>
<use href="#moon" x="655.36" y="0"/>
<path d="M653.64 119.72C653.63 117.86 653.45 118.50 654.03 117.17C654.60 115.84 654.38 116.09 655.56 115.29C656.75 114.49 656.50 114.62 657.98 114.52C659.46 114.42 659.52 115.52 660.51 114.96C661.50 114.39 660.42 113.76 661.28 112.63C662.13 111.51 661.85 111.78 663.36 111.20C664.88 110.61 664.72 110.60 666.33 110.70C667.95 110.80 667.46 110.75 668.75 111.53C670.03 112.31 669.69 112.04 670.62 113.30C671.54 114.56 671.30 114.60 671.82 115.73C672.35 116.86 671.62 116.50 672.37 117.06C673.13 117.63 673.20 117.12 674.35 117.61C675.50 118.11 675.31 117.79 676.22 118.72C677.13 119.65 677.09 119.42 677.37 120.71C677.65 122.01 677.66 121.78 677.15 123.04C676.64 124.30 676.81 124.01 675.67 124.92C674.53 125.83 675.04 125.65 673.36 126.08C671.68 126.51 671.68 126.51 670.07 126.36C668.45 126.21 669.23 125.67 667.98 125.58C666.73 125.50 667.54 125.85 665.89 126.08C664.24 126.31 664.00 126.51 662.49 126.36C660.97 126.21 662.09 125.67 660.84 125.58C659.59 125.50 659.89 126.15 658.31 126.08C656.73 126.01 656.83 126.17 655.56 125.36C654.30 124.55 654.66 125.06 654.08 123.37C653.50 121.68 653.66 121.58 653.64 119.72Z" fill="#d2d2d2" stroke="#2e4d74" stroke-width="1.50" stroke-linejoin="round"/><path d="M672.37 117.06C671.65 116.96 671.24 116.50 669.96 116.73C668.67 116.96 668.85 117.04 668.09 117.84C667.33 118.63 667.43 118.69 667.43 119.39C667.43 120.08 667.89 119.93 668.09 120.16" fill="none" stroke="#2e4d74" stroke-width="1.50" stroke-linecap="round"/>
<use href="#moon" x="695.43" y="0"/>
<line x1="679.13" y1="115.9" x2="716.23" y2="115.9" stroke="#2f4d74" stroke-width="1.5"/>
<line x1="680.63" y1="119.1" x2="715.43" y2="119.1" stroke="#2f4d74" stroke-width="1.5"/>
<line x1="682.33" y1="123.7" x2="714.33" y2="123.7" stroke="#2f4d74" stroke-width="2.7"/>
<clipPath id="sf1"><rect x="712.00" y="98" width="40" height="18.6"/></clipPath>
<g clip-path="url(#sf1)"><use href="#sun" x="731.70" y="113.8"/><circle cx="731.70" cy="113.8" r="6.7" fill="#f1e51d" stroke="#f6ae2d" stroke-width="0.9"/></g>
<rect x="714.50" y="116.4" width="34.8" height="10.8" fill="#7f9fe0" fill-opacity="0.16"/>
<rect x="728.00" y="118.6" width="8" height="1.6" fill="#f3d43a"/>
<rect x="720.50" y="118.8" width="3" height="1.3" fill="#f1e24a"/>
<rect x="728.50" y="122.7" width="2.6" height="1.6" fill="#f1e24a"/>
<rect x="737.50" y="122.7" width="2.6" height="1.6" fill="#f1e24a"/>
<line x1="714.20" y1="117.4" x2="749.60" y2="117.4" stroke="#4f79ba" stroke-width="2.0"/>
<line x1="715.00" y1="121.4" x2="749.20" y2="121.4" stroke="#4f79ba" stroke-width="2.0"/>
<line x1="716.60" y1="125.7" x2="748.60" y2="125.7" stroke="#4f79ba" stroke-width="3.0"/>
<clipPath id="sf2"><rect x="746.57" y="98" width="40" height="18.6"/></clipPath>
<g clip-path="url(#sf2)"><use href="#sun" x="766.27" y="113.8"/><circle cx="766.27" cy="113.8" r="6.7" fill="#f1e51d" stroke="#f6ae2d" stroke-width="0.9"/></g>
<rect x="749.07" y="116.4" width="34.8" height="10.8" fill="#7f9fe0" fill-opacity="0.16"/>
<rect x="762.57" y="118.6" width="8" height="1.6" fill="#f3d43a"/>
<rect x="755.07" y="118.8" width="3" height="1.3" fill="#f1e24a"/>
<rect x="763.07" y="122.7" width="2.6" height="1.6" fill="#f1e24a"/>
<rect x="772.07" y="122.7" width="2.6" height="1.6" fill="#f1e24a"/>
<line x1="748.77" y1="117.4" x2="784.17" y2="117.4" stroke="#4f79ba" stroke-width="2.0"/>
<line x1="749.57" y1="121.4" x2="783.77" y2="121.4" stroke="#4f79ba" stroke-width="2.0"/>
<line x1="751.17" y1="125.7" x2="783.17" y2="125.7" stroke="#4f79ba" stroke-width="3.0"/>
<use href="#moon" x="799.14" y="0"/>
<line x1="782.84" y1="115.9" x2="819.94" y2="115.9" stroke="#2f4d74" stroke-width="1.5"/>
<line x1="784.34" y1="119.1" x2="819.14" y2="119.1" stroke="#2f4d74" stroke-width="1.5"/>
<line x1="786.04" y1="123.7" x2="818.04" y2="123.7" stroke="#2f4d74" stroke-width="2.7"/>
<use href="#moon" x="833.71" y="0"/>
<line x1="817.41" y1="115.9" x2="854.51" y2="115.9" stroke="#2f4d74" stroke-width="1.5"/>
<line x1="818.91" y1="119.1" x2="853.71" y2="119.1" stroke="#2f4d74" stroke-width="1.5"/>
<line x1="820.61" y1="123.7" x2="852.61" y2="123.7" stroke="#2f4d74" stroke-width="2.7"/>
<clipPath id="sf3"><rect x="850.29" y="98" width="40" height="18.6"/></clipPath>
<g clip-path="url(#sf3)"><use href="#sun" x="869.99" y="113.8"/><circle cx="869.99" cy="113.8" r="6.7" fill="#f1e51d" stroke="#f6ae2d" stroke-width="0.9"/></g>
<rect x="852.79" y="116.4" width="34.8" height="10.8" fill="#7f9fe0" fill-opacity="0.16"/>
<rect x="866.29" y="118.6" width="8" height="1.6" fill="#f3d43a"/>
<rect x="858.79" y="118.8" width="3" height="1.3" fill="#f1e24a"/>
<rect x="866.79" y="122.7" width="2.6" height="1.6" fill="#f1e24a"/>
<rect x="875.79" y="122.7" width="2.6" height="1.6" fill="#f1e24a"/>
<line x1="852.49" y1="117.4" x2="887.89" y2="117.4" stroke="#4f79ba" stroke-width="2.0"/>
<line x1="853.29" y1="121.4" x2="887.49" y2="121.4" stroke="#4f79ba" stroke-width="2.0"/>
<line x1="854.89" y1="125.7" x2="886.89" y2="125.7" stroke="#4f79ba" stroke-width="3.0"/>
<path d="M895.81 123.70C894.65 123.58 893.98 123.99 891.96 123.30C889.93 122.61 890.26 123.11 889.06 121.40C887.86 119.69 887.96 119.73 887.96 117.60C887.96 115.47 887.62 115.98 889.06 114.30C890.50 112.62 890.51 112.60 892.76 112.00C895.01 111.40 895.42 112.21 896.56 112.30L896.56 112.30C896.83 111.22 896.26 110.74 897.46 108.70C898.66 106.66 898.58 106.69 900.56 105.50C902.54 104.31 901.99 104.66 904.06 104.75C906.13 104.84 905.75 104.64 907.46 105.80C909.17 106.95 909.07 107.76 909.76 108.60L909.76 108.60C910.82 108.48 911.16 107.77 913.31 108.20C915.45 108.64 914.97 108.43 916.91 110.05C918.84 111.67 918.66 111.23 919.76 113.60C920.85 115.97 920.65 115.55 920.56 117.95C920.47 120.35 920.30 119.84 919.46 121.60C918.62 123.35 918.27 123.14 917.76 123.80Z" fill="#d2d2d2" stroke="none"/><path d="M895.81 123.70C894.65 123.58 893.98 123.99 891.96 123.30C889.93 122.61 890.26 123.11 889.06 121.40C887.86 119.69 887.96 119.73 887.96 117.60C887.96 115.47 887.62 115.98 889.06 114.30C890.50 112.62 890.51 112.60 892.76 112.00C895.01 111.40 895.42 112.21 896.56 112.30" fill="none" stroke="#2a5caa" stroke-width="1.45" stroke-linecap="round"/><path d="M896.56 112.30C896.83 111.22 896.26 110.74 897.46 108.70C898.66 106.66 898.58 106.69 900.56 105.50C902.54 104.31 901.99 104.66 904.06 104.75C906.13 104.84 905.75 104.64 907.46 105.80C909.17 106.95 909.07 107.76 909.76 108.60" fill="none" stroke="#2a5caa" stroke-width="1.45" stroke-linecap="round"/><path d="M909.76 108.60C910.82 108.48 911.16 107.77 913.31 108.20C915.45 108.64 914.97 108.43 916.91 110.05C918.84 111.67 918.66 111.23 919.76 113.60C920.85 115.97 920.65 115.55 920.56 117.95C920.47 120.35 920.30 119.84 919.46 121.60C918.62 123.35 918.27 123.14 917.76 123.80" fill="none" stroke="#2a5caa" stroke-width="1.45" stroke-linecap="round"/><path d="M896.56 112.3C896.96 113.4 897.76 114.5 898.86 115.3" fill="none" stroke="#2a5caa" stroke-width="1.45" stroke-linecap="round"/><path d="M909.76 108.6C910.16 109.8 909.96 110.8 909.26 111.8" fill="none" stroke="#2a5caa" stroke-width="1.45" stroke-linecap="round"/>
<path d="M895.93 119.61C895.91 117.91 895.74 118.50 896.30 117.28C896.85 116.07 896.64 116.29 897.78 115.56C898.92 114.83 898.68 114.94 900.11 114.85C901.54 114.76 901.59 115.77 902.54 115.26C903.49 114.74 902.46 114.16 903.28 113.13C904.11 112.10 903.83 112.34 905.29 111.81C906.75 111.28 906.60 111.26 908.15 111.36C909.71 111.45 909.24 111.40 910.48 112.12C911.72 112.83 911.39 112.58 912.28 113.74C913.17 114.89 912.93 114.93 913.44 115.97C913.95 117.00 913.24 116.67 913.97 117.18C914.70 117.70 914.77 117.23 915.88 117.69C916.99 118.15 916.80 117.85 917.68 118.70C918.55 119.55 918.52 119.34 918.79 120.53C919.06 121.71 919.07 121.50 918.58 122.65C918.08 123.81 918.24 123.54 917.15 124.38C916.05 125.21 916.54 125.05 914.92 125.44C913.30 125.84 913.30 125.83 911.75 125.69C910.19 125.56 910.94 125.06 909.74 124.99C908.53 124.91 909.31 125.23 907.73 125.44C906.14 125.65 905.91 125.83 904.45 125.69C902.99 125.56 904.07 125.06 902.86 124.99C901.65 124.91 901.95 125.50 900.43 125.44C898.90 125.38 899.00 125.53 897.78 124.78C896.56 124.04 896.91 124.51 896.35 122.96C895.80 121.41 895.94 121.32 895.93 119.61Z" fill="#fff" stroke="#2a5caa" stroke-width="1.50" stroke-linejoin="round"/><path d="M913.97 117.18C913.27 117.09 912.88 116.67 911.64 116.88C910.41 117.09 910.57 117.16 909.84 117.89C909.11 118.62 909.21 118.67 909.21 119.31C909.21 119.95 909.65 119.81 909.84 120.02" fill="none" stroke="#2a5caa" stroke-width="1.50" stroke-linecap="round"/>
<use href="#moon" x="937.43" y="0"/>
<line x1="921.13" y1="115.9" x2="958.23" y2="115.9" stroke="#2f4d74" stroke-width="1.5"/>
<line x1="922.63" y1="119.1" x2="957.43" y2="119.1" stroke="#2f4d74" stroke-width="1.5"/>
<line x1="924.33" y1="123.7" x2="956.33" y2="123.7" stroke="#2f4d74" stroke-width="2.7"/>
<use href="#moon" x="972.00" y="0"/>
<line x1="955.70" y1="115.9" x2="992.80" y2="115.9" stroke="#2f4d74" stroke-width="1.5"/>
<line x1="957.20" y1="119.1" x2="992.00" y2="119.1" stroke="#2f4d74" stroke-width="1.5"/>
<line x1="958.90" y1="123.7" x2="990.90" y2="123.7" stroke="#2f4d74" stroke-width="2.7"/>
<path d="M999.52 123.70C998.37 123.58 997.70 123.99 995.67 123.30C993.65 122.61 993.97 123.11 992.77 121.40C991.57 119.69 991.67 119.73 991.67 117.60C991.67 115.47 991.33 115.98 992.77 114.30C994.21 112.62 994.22 112.60 996.47 112.00C998.72 111.40 999.13 112.21 1000.27 112.30L1000.27 112.30C1000.54 111.22 999.97 110.74 1001.17 108.70C1002.37 106.66 1002.29 106.69 1004.27 105.50C1006.25 104.31 1005.70 104.66 1007.77 104.75C1009.84 104.84 1009.46 104.64 1011.17 105.80C1012.88 106.95 1012.78 107.76 1013.47 108.60L1013.47 108.60C1014.54 108.48 1014.88 107.77 1017.02 108.20C1019.17 108.64 1018.69 108.43 1020.62 110.05C1022.56 111.67 1022.38 111.23 1023.47 113.60C1024.57 115.97 1024.36 115.55 1024.27 117.95C1024.18 120.35 1024.01 119.84 1023.17 121.60C1022.33 123.35 1021.98 123.14 1021.47 123.80Z" fill="#d2d2d2" stroke="none"/><path d="M999.52 123.70C998.37 123.58 997.70 123.99 995.67 123.30C993.65 122.61 993.97 123.11 992.77 121.40C991.57 119.69 991.67 119.73 991.67 117.60C991.67 115.47 991.33 115.98 992.77 114.30C994.21 112.62 994.22 112.60 996.47 112.00C998.72 111.40 999.13 112.21 1000.27 112.30" fill="none" stroke="#2a5caa" stroke-width="1.45" stroke-linecap="round"/><path d="M1000.27 112.30C1000.54 111.22 999.97 110.74 1001.17 108.70C1002.37 106.66 1002.29 106.69 1004.27 105.50C1006.25 104.31 1005.70 104.66 1007.77 104.75C1009.84 104.84 1009.46 104.64 1011.17 105.80C1012.88 106.95 1012.78 107.76 1013.47 108.60" fill="none" stroke="#2a5caa" stroke-width="1.45" stroke-linecap="round"/><path d="M1013.47 108.60C1014.54 108.48 1014.88 107.77 1017.02 108.20C1019.17 108.64 1018.69 108.43 1020.62 110.05C1022.56 111.67 1022.38 111.23 1023.47 113.60C1024.57 115.97 1024.36 115.55 1024.27 117.95C1024.18 120.35 1024.01 119.84 1023.17 121.60C1022.33 123.35 1021.98 123.14 1021.47 123.80" fill="none" stroke="#2a5caa" stroke-width="1.45" stroke-linecap="round"/><path d="M1000.27 112.3C1000.67 113.4 1001.47 114.5 1002.57 115.3" fill="none" stroke="#2a5caa" stroke-width="1.45" stroke-linecap="round"/><path d="M1013.47 108.6C1013.87 109.8 1013.67 110.8 1012.97 111.8" fill="none" stroke="#2a5caa" stroke-width="1.45" stroke-linecap="round"/>
<path d="M999.64 119.61C999.63 117.91 999.46 118.50 1000.01 117.28C1000.57 116.07 1000.35 116.29 1001.49 115.56C1002.64 114.83 1002.39 114.94 1003.82 114.85C1005.25 114.76 1005.30 115.77 1006.26 115.26C1007.21 114.74 1006.17 114.16 1007.00 113.13C1007.82 112.10 1007.55 112.34 1009.01 111.81C1010.47 111.28 1010.31 111.26 1011.87 111.36C1013.42 111.45 1012.96 111.40 1014.19 112.12C1015.43 112.83 1015.10 112.58 1015.99 113.74C1016.88 114.89 1016.65 114.93 1017.16 115.97C1017.66 117.00 1016.96 116.67 1017.69 117.18C1018.42 117.70 1018.48 117.23 1019.59 117.69C1020.70 118.15 1020.52 117.85 1021.39 118.70C1022.26 119.55 1022.23 119.34 1022.50 120.53C1022.77 121.71 1022.78 121.50 1022.29 122.65C1021.80 123.81 1021.96 123.54 1020.86 124.38C1019.77 125.21 1020.26 125.05 1018.64 125.44C1017.02 125.84 1017.02 125.83 1015.46 125.69C1013.91 125.56 1014.66 125.06 1013.45 124.99C1012.25 124.91 1013.03 125.23 1011.44 125.44C1009.85 125.65 1009.62 125.83 1008.16 125.69C1006.70 125.56 1007.78 125.06 1006.57 124.99C1005.37 124.91 1005.66 125.50 1004.14 125.44C1002.62 125.38 1002.72 125.53 1001.49 124.78C1000.27 124.04 1000.62 124.51 1000.07 122.96C999.51 121.41 999.66 121.32 999.64 119.61Z" fill="#fff" stroke="#2a5caa" stroke-width="1.50" stroke-linejoin="round"/><path d="M1017.69 117.18C1016.99 117.09 1016.60 116.67 1015.36 116.88C1014.12 117.09 1014.29 117.16 1013.56 117.89C1012.83 118.62 1012.92 118.67 1012.92 119.31C1012.92 119.95 1013.37 119.81 1013.56 120.02" fill="none" stroke="#2a5caa" stroke-width="1.50" stroke-linecap="round"/>
<use href="#sun" x="1047.14" y="113.30"/>
<path d="M1027.80 121.69C1027.78 120.03 1027.62 120.60 1028.15 119.42C1028.68 118.23 1028.47 118.45 1029.56 117.74C1030.65 117.03 1030.42 117.14 1031.78 117.05C1033.14 116.96 1033.19 117.95 1034.10 117.44C1035.01 116.94 1034.02 116.38 1034.81 115.37C1035.60 114.36 1035.33 114.61 1036.73 114.09C1038.12 113.57 1037.97 113.56 1039.45 113.64C1040.93 113.73 1040.49 113.69 1041.67 114.38C1042.85 115.08 1042.54 114.84 1043.38 115.96C1044.23 117.09 1044.01 117.13 1044.49 118.13C1044.98 119.14 1044.30 118.81 1045.00 119.32C1045.70 119.82 1045.76 119.37 1046.82 119.81C1047.87 120.25 1047.70 119.97 1048.53 120.80C1049.36 121.63 1049.33 121.42 1049.59 122.57C1049.85 123.73 1049.86 123.52 1049.39 124.65C1048.92 125.77 1049.07 125.51 1048.03 126.32C1046.98 127.14 1047.45 126.97 1045.91 127.36C1044.36 127.74 1044.36 127.74 1042.88 127.61C1041.40 127.47 1042.11 126.99 1040.96 126.91C1039.81 126.84 1040.56 127.15 1039.05 127.36C1037.53 127.57 1037.31 127.74 1035.92 127.61C1034.53 127.47 1035.55 126.99 1034.40 126.91C1033.25 126.84 1033.54 127.42 1032.08 127.36C1030.63 127.30 1030.73 127.44 1029.56 126.72C1028.40 125.99 1028.73 126.45 1028.20 124.94C1027.67 123.43 1027.81 123.34 1027.80 121.69Z" fill="#d2d2d2" stroke="#2a5caa" stroke-width="1.45" stroke-linejoin="round"/><path d="M1045.00 119.32C1044.33 119.23 1043.96 118.81 1042.78 119.02C1041.60 119.23 1041.76 119.30 1041.06 120.01C1040.37 120.72 1040.46 120.77 1040.46 121.39C1040.46 122.01 1040.88 121.87 1041.06 122.08" fill="none" stroke="#2a5caa" stroke-width="1.45" stroke-linecap="round"/>
<line x1="1036.34" y1="129.3" x2="1035.04" y2="133.6" stroke="#2a5caa" stroke-width="1.9"/>
<line x1="1040.74" y1="129.3" x2="1039.44" y2="133.6" stroke="#2a5caa" stroke-width="1.9"/>
<path d="M1068.66 123.70C1067.51 123.58 1066.84 123.99 1064.81 123.30C1062.79 122.61 1063.11 123.11 1061.91 121.40C1060.71 119.69 1060.81 119.73 1060.81 117.60C1060.81 115.47 1060.47 115.98 1061.91 114.30C1063.35 112.62 1063.36 112.60 1065.61 112.00C1067.86 111.40 1068.27 112.21 1069.41 112.30L1069.41 112.30C1069.68 111.22 1069.11 110.74 1070.31 108.70C1071.51 106.66 1071.43 106.69 1073.41 105.50C1075.39 104.31 1074.84 104.66 1076.91 104.75C1078.98 104.84 1078.60 104.64 1080.31 105.80C1082.02 106.95 1081.92 107.76 1082.61 108.60L1082.61 108.60C1083.68 108.48 1084.02 107.77 1086.16 108.20C1088.31 108.64 1087.83 108.43 1089.76 110.05C1091.70 111.67 1091.52 111.23 1092.61 113.60C1093.71 115.97 1093.50 115.55 1093.41 117.95C1093.32 120.35 1093.15 119.84 1092.31 121.60C1091.47 123.35 1091.12 123.14 1090.61 123.80Z" fill="#d2d2d2" stroke="none"/><path d="M1068.66 123.70C1067.51 123.58 1066.84 123.99 1064.81 123.30C1062.79 122.61 1063.11 123.11 1061.91 121.40C1060.71 119.69 1060.81 119.73 1060.81 117.60C1060.81 115.47 1060.47 115.98 1061.91 114.30C1063.35 112.62 1063.36 112.60 1065.61 112.00C1067.86 111.40 1068.27 112.21 1069.41 112.30" fill="none" stroke="#2e4d74" stroke-width="1.45" stroke-linecap="round"/><path d="M1069.41 112.30C1069.68 111.22 1069.11 110.74 1070.31 108.70C1071.51 106.66 1071.43 106.69 1073.41 105.50C1075.39 104.31 1074.84 104.66 1076.91 104.75C1078.98 104.84 1078.60 104.64 1080.31 105.80C1082.02 106.95 1081.92 107.76 1082.61 108.60" fill="none" stroke="#2e4d74" stroke-width="1.45" stroke-linecap="round"/><path d="M1082.61 108.60C1083.68 108.48 1084.02 107.77 1086.16 108.20C1088.31 108.64 1087.83 108.43 1089.76 110.05C1091.70 111.67 1091.52 111.23 1092.61 113.60C1093.71 115.97 1093.50 115.55 1093.41 117.95C1093.32 120.35 1093.15 119.84 1092.31 121.60C1091.47 123.35 1091.12 123.14 1090.61 123.80" fill="none" stroke="#2e4d74" stroke-width="1.45" stroke-linecap="round"/><path d="M1069.41 112.3C1069.81 113.4 1070.61 114.5 1071.71 115.3" fill="none" stroke="#2e4d74" stroke-width="1.45" stroke-linecap="round"/><path d="M1082.61 108.6C1083.01 109.8 1082.81 110.8 1082.11 111.8" fill="none" stroke="#2e4d74" stroke-width="1.45" stroke-linecap="round"/>
<path d="M1068.78 119.61C1068.77 117.91 1068.60 118.50 1069.16 117.28C1069.71 116.07 1069.49 116.29 1070.64 115.56C1071.78 114.83 1071.54 114.94 1072.96 114.85C1074.39 114.76 1074.45 115.77 1075.40 115.26C1076.35 114.74 1075.31 114.16 1076.14 113.13C1076.97 112.10 1076.69 112.34 1078.15 111.81C1079.61 111.28 1079.45 111.26 1081.01 111.36C1082.56 111.45 1082.10 111.40 1083.34 112.12C1084.57 112.83 1084.25 112.58 1085.14 113.74C1086.02 114.89 1085.79 114.93 1086.30 115.97C1086.81 117.00 1086.10 116.67 1086.83 117.18C1087.56 117.70 1087.62 117.23 1088.73 117.69C1089.84 118.15 1089.66 117.85 1090.53 118.70C1091.41 119.55 1091.37 119.34 1091.64 120.53C1091.91 121.71 1091.92 121.50 1091.43 122.65C1090.94 123.81 1091.10 123.54 1090.00 124.38C1088.91 125.21 1089.40 125.05 1087.78 125.44C1086.16 125.84 1086.16 125.83 1084.61 125.69C1083.05 125.56 1083.80 125.06 1082.60 124.99C1081.39 124.91 1082.17 125.23 1080.58 125.44C1079.00 125.65 1078.76 125.83 1077.30 125.69C1075.84 125.56 1076.92 125.06 1075.72 124.99C1074.51 124.91 1074.81 125.50 1073.28 125.44C1071.76 125.38 1071.86 125.53 1070.64 124.78C1069.41 124.04 1069.76 124.51 1069.21 122.96C1068.65 121.41 1068.80 121.32 1068.78 119.61Z" fill="#fff" stroke="#2e4d74" stroke-width="1.50" stroke-linejoin="round"/><path d="M1086.83 117.18C1086.13 117.09 1085.74 116.67 1084.50 116.88C1083.26 117.09 1083.43 117.16 1082.70 117.89C1081.97 118.62 1082.07 118.67 1082.07 119.31C1082.07 119.95 1082.51 119.81 1082.70 120.02" fill="none" stroke="#2e4d74" stroke-width="1.50" stroke-linecap="round"/>
<line x1="1075.91" y1="129.3" x2="1074.61" y2="133.6" stroke="#2e4d74" stroke-width="1.9"/>
<line x1="1080.11" y1="129.3" x2="1078.81" y2="133.6" stroke="#2e4d74" stroke-width="1.9"/>
<line x1="173.96" y1="97.0" x2="173.96" y2="172" stroke="#111" stroke-width="1.6" stroke-dasharray="5.5 2.4"/>
<path d="M118.6 162L134.9 144M116.3 156.8L121.3 159.2" stroke="#0a0a0a" stroke-width="1.7" fill="none" stroke-linecap="butt" stroke-linejoin="miter"/>
<path d="M135.5 162L152.4 144M149.7 146.3L154.4 150.4" stroke="#0a0a0a" stroke-width="1.7" fill="none" stroke-linecap="butt" stroke-linejoin="miter"/>
<path d="M158 165.3L163.6 140.2H175.6" stroke="#0a0a0a" stroke-width="1.7" fill="none" stroke-linecap="butt" stroke-linejoin="miter"/>
<path d="M170 161L188 145M168.4 154.8L173.4 158.6" stroke="#0a0a0a" stroke-width="1.7" fill="none" stroke-linecap="butt" stroke-linejoin="miter"/>
<path d="M187.4 162L203.6 144M185.3 156.8L190.3 159.2" stroke="#0a0a0a" stroke-width="1.7" fill="none" stroke-linecap="butt" stroke-linejoin="miter"/>
<path d="M212.4 140.8L214.2 165.3M208.5 162.6L214 161" stroke="#0a0a0a" stroke-width="1.7" fill="none" stroke-linecap="butt" stroke-linejoin="miter"/>
<circle cx="230.71" cy="153.3" r="3.55" stroke="#0a0a0a" stroke-width="1.65" fill="none"/>
<circle cx="248.00" cy="153.3" r="3.55" stroke="#0a0a0a" stroke-width="1.65" fill="none"/>
<circle cx="265.29" cy="153.3" r="3.55" stroke="#0a0a0a" stroke-width="1.65" fill="none"/>
<circle cx="282.57" cy="153.3" r="3.55" stroke="#0a0a0a" stroke-width="1.65" fill="none"/>
<circle cx="299.86" cy="153.3" r="3.55" stroke="#0a0a0a" stroke-width="1.65" fill="none"/>
<circle cx="317.14" cy="153.3" r="3.55" stroke="#0a0a0a" stroke-width="1.65" fill="none"/>
<circle cx="334.43" cy="153.3" r="3.55" stroke="#0a0a0a" stroke-width="1.65" fill="none"/>
<circle cx="351.71" cy="153.3" r="3.55" stroke="#0a0a0a" stroke-width="1.65" fill="none"/>
<circle cx="369.00" cy="153.3" r="3.55" stroke="#0a0a0a" stroke-width="1.65" fill="none"/>
<circle cx="386.29" cy="153.3" r="3.55" stroke="#0a0a0a" stroke-width="1.65" fill="none"/>
<circle cx="403.57" cy="153.3" r="3.55" stroke="#0a0a0a" stroke-width="1.65" fill="none"/>
<circle cx="420.86" cy="153.3" r="3.55" stroke="#0a0a0a" stroke-width="1.65" fill="none"/>
<circle cx="438.14" cy="153.3" r="3.55" stroke="#0a0a0a" stroke-width="1.65" fill="none"/>
<circle cx="455.43" cy="153.3" r="3.55" stroke="#0a0a0a" stroke-width="1.65" fill="none"/>
<circle cx="472.71" cy="153.3" r="3.55" stroke="#0a0a0a" stroke-width="1.65" fill="none"/>
<circle cx="490.00" cy="153.3" r="3.55" stroke="#0a0a0a" stroke-width="1.65" fill="none"/>
<circle cx="507.29" cy="153.3" r="3.55" stroke="#0a0a0a" stroke-width="1.65" fill="none"/>
<circle cx="524.57" cy="153.3" r="3.55" stroke="#0a0a0a" stroke-width="1.65" fill="none"/>
<circle cx="541.86" cy="153.3" r="3.55" stroke="#0a0a0a" stroke-width="1.65" fill="none"/>
<circle cx="559.14" cy="153.3" r="3.55" stroke="#0a0a0a" stroke-width="1.65" fill="none"/>
<circle cx="576.43" cy="153.3" r="3.55" stroke="#0a0a0a" stroke-width="1.65" fill="none"/>
<circle cx="593.71" cy="153.3" r="3.55" stroke="#0a0a0a" stroke-width="1.65" fill="none"/>
<circle cx="611.00" cy="153.3" r="3.55" stroke="#0a0a0a" stroke-width="1.65" fill="none"/>
<circle cx="628.29" cy="153.3" r="3.55" stroke="#0a0a0a" stroke-width="1.65" fill="none"/>
<circle cx="645.57" cy="153.3" r="3.55" stroke="#0a0a0a" stroke-width="1.65" fill="none"/>
<circle cx="662.86" cy="153.3" r="3.55" stroke="#0a0a0a" stroke-width="1.65" fill="none"/>
<circle cx="680.14" cy="153.3" r="3.55" stroke="#0a0a0a" stroke-width="1.65" fill="none"/>
<circle cx="697.43" cy="153.3" r="3.55" stroke="#0a0a0a" stroke-width="1.65" fill="none"/>
<circle cx="714.71" cy="153.3" r="3.55" stroke="#0a0a0a" stroke-width="1.65" fill="none"/>
<circle cx="732.00" cy="153.3" r="3.55" stroke="#0a0a0a" stroke-width="1.65" fill="none"/>
<circle cx="749.29" cy="153.3" r="3.55" stroke="#0a0a0a" stroke-width="1.65" fill="none"/>
<circle cx="766.57" cy="153.3" r="3.55" stroke="#0a0a0a" stroke-width="1.65" fill="none"/>
<circle cx="783.86" cy="153.3" r="3.55" stroke="#0a0a0a" stroke-width="1.65" fill="none"/>
<circle cx="801.14" cy="153.3" r="3.55" stroke="#0a0a0a" stroke-width="1.65" fill="none"/>
<circle cx="818.43" cy="153.3" r="3.55" stroke="#0a0a0a" stroke-width="1.65" fill="none"/>
<circle cx="835.71" cy="153.3" r="3.55" stroke="#0a0a0a" stroke-width="1.65" fill="none"/>
<circle cx="853.00" cy="153.3" r="3.55" stroke="#0a0a0a" stroke-width="1.65" fill="none"/>
<circle cx="870.29" cy="153.3" r="3.55" stroke="#0a0a0a" stroke-width="1.65" fill="none"/>
<circle cx="887.57" cy="153.3" r="3.55" stroke="#0a0a0a" stroke-width="1.65" fill="none"/>
<circle cx="904.86" cy="153.3" r="3.55" stroke="#0a0a0a" stroke-width="1.65" fill="none"/>
<circle cx="922.14" cy="153.3" r="3.55" stroke="#0a0a0a" stroke-width="1.65" fill="none"/>
<circle cx="939.43" cy="153.3" r="3.55" stroke="#0a0a0a" stroke-width="1.65" fill="none"/>
<circle cx="956.71" cy="153.3" r="3.55" stroke="#0a0a0a" stroke-width="1.65" fill="none"/>
<circle cx="974.00" cy="153.3" r="3.55" stroke="#0a0a0a" stroke-width="1.65" fill="none"/>
<circle cx="991.29" cy="153.3" r="3.55" stroke="#0a0a0a" stroke-width="1.65" fill="none"/>
<circle cx="1008.57" cy="153.3" r="3.55" stroke="#0a0a0a" stroke-width="1.65" fill="none"/>
<path d="M1019.4 164L1031.3 142M1029.4 145.3L1034.6 147.2" stroke="#0a0a0a" stroke-width="1.7" fill="none" stroke-linecap="butt" stroke-linejoin="miter"/>
<path d="M1035.6 163.4L1048.8 142.6M1046.8 145.8L1052 147.9" stroke="#0a0a0a" stroke-width="1.7" fill="none" stroke-linecap="butt" stroke-linejoin="miter"/>
<path d="M1052.5 163.4L1066.3 142.6M1064.3 145.8L1069.5 148.1" stroke="#0a0a0a" stroke-width="1.7" fill="none" stroke-linecap="butt" stroke-linejoin="miter"/>
<path d="M1075 165.3L1079.5 140.8M1078.9 144.5L1083.9 145.3" stroke="#0a0a0a" stroke-width="1.7" fill="none" stroke-linecap="butt" stroke-linejoin="miter"/>
<path d="M1097.6 164.8L1091.2 141.4M1092.6 146.1L1097 142.6" stroke="#0a0a0a" stroke-width="1.7" fill="none" stroke-linecap="butt" stroke-linejoin="miter"/>
<rect x="79.9" y="55" width="30.1" height="367.5" fill="#fff"/>
<clipPath id="c80"><rect x="70" y="160" width="9.9" height="210"/></clipPath>
<g clip-path="url(#c80)" stroke="#1a1a1a" stroke-width="1.5" fill="none">
<path d="M76.6 178.6L80.4 176.4"/><path d="M77.2 189.3H80.4"/><path d="M78 192L80.4 194.2"/><path d="M76.8 237.8L80.4 235"/>
<path d="M77.6 270.3H80.4" stroke-width="1.9"/>
<path d="M77.6 277.0H80.4" stroke-width="1.9"/>
<path d="M77.6 294.6H80.4" stroke-width="1.9"/>
<path d="M77.6 300.0H80.4" stroke-width="1.9"/>
<path d="M77.6 316.3H80.4" stroke-width="1.9"/>
<path d="M78.2 349V357" stroke-width="3"/>
</g>
<clipPath id="c110"><rect x="110" y="150" width="20" height="230"/></clipPath>
<text x="123.20" y="365.60" font-size="17.59" fill="#111" stroke="#111" stroke-width="0.3" text-anchor="end" textLength="10.82" lengthAdjust="spacingAndGlyphs" clip-path="url(#c110)">0</text>
<text x="123.20" y="318.65" font-size="17.59" fill="#111" stroke="#111" stroke-width="0.3" text-anchor="end" textLength="10.82" lengthAdjust="spacingAndGlyphs" clip-path="url(#c110)">4</text>
<text x="123.20" y="271.70" font-size="17.59" fill="#111" stroke="#111" stroke-width="0.3" text-anchor="end" textLength="10.82" lengthAdjust="spacingAndGlyphs" clip-path="url(#c110)">8</text>
<text x="123.20" y="224.75" font-size="17.59" fill="#111" stroke="#111" stroke-width="0.3" text-anchor="end" textLength="10.82" lengthAdjust="spacingAndGlyphs" clip-path="url(#c110)">2</text>
<text x="46.20" y="365.60" font-size="17.59" fill="#ff0000" stroke="#ff0000" stroke-width="0.3" text-anchor="start" textLength="10.82" lengthAdjust="spacingAndGlyphs">0</text>
<text x="46.20" y="328.00" font-size="17.59" fill="#ff0000" stroke="#ff0000" stroke-width="0.3" text-anchor="start" textLength="10.82" lengthAdjust="spacingAndGlyphs">4</text>
<text x="46.20" y="290.50" font-size="17.59" fill="#ff0000" stroke="#ff0000" stroke-width="0.3" text-anchor="start" textLength="10.82" lengthAdjust="spacingAndGlyphs">9</text>
<text x="46.20" y="252.90" font-size="17.59" fill="#ff0000" stroke="#ff0000" stroke-width="0.3" text-anchor="start" textLength="21.63" lengthAdjust="spacingAndGlyphs">13</text>
<text x="46.20" y="215.40" font-size="17.59" fill="#ff0000" stroke="#ff0000" stroke-width="0.3" text-anchor="start" textLength="21.63" lengthAdjust="spacingAndGlyphs">18</text>
<text x="46.20" y="178.50" font-size="17.59" fill="#ff0000" stroke="#ff0000" stroke-width="0.3" text-anchor="start" textLength="21.63" lengthAdjust="spacingAndGlyphs">22</text>
<text x="35.60" y="266.00" font-size="19.66" fill="#ff0000" stroke="#ff0000" stroke-width="0.3" text-anchor="middle" textLength="164.36" lengthAdjust="spacingAndGlyphs" transform="rotate(-90 35.60 266.00)">Temperatura (°C)</text>
<text x="99.90" y="264.80" font-size="19.66" fill="#000" stroke="#000" stroke-width="0.3" text-anchor="middle" textLength="162.53" lengthAdjust="spacingAndGlyphs" transform="rotate(-90 99.90 264.80)">Padavine (mm/h)</text>
<text x="1145.60" y="254.00" font-size="19.66" fill="#000" stroke="#000" stroke-width="0.3" text-anchor="middle" textLength="186.94" lengthAdjust="spacingAndGlyphs" transform="rotate(-90 1145.60 254.00)">Višina oblakov (km)</text>
<text x="1098.60" y="365.60" font-size="17.59" fill="#111" stroke="#111" stroke-width="0.3" text-anchor="start" textLength="10.82" lengthAdjust="spacingAndGlyphs">0</text>
<text x="1098.60" y="328.00" font-size="17.59" fill="#111" stroke="#111" stroke-width="0.3" text-anchor="start" textLength="27.04" lengthAdjust="spacingAndGlyphs">1.5</text>
<text x="1098.60" y="290.50" font-size="17.59" fill="#111" stroke="#111" stroke-width="0.3" text-anchor="start" textLength="27.04" lengthAdjust="spacingAndGlyphs">3.5</text>
<text x="1098.60" y="252.90" font-size="17.59" fill="#111" stroke="#111" stroke-width="0.3" text-anchor="start" textLength="27.04" lengthAdjust="spacingAndGlyphs">6.0</text>
<text x="1098.60" y="215.40" font-size="17.59" fill="#111" stroke="#111" stroke-width="0.3" text-anchor="start" textLength="27.04" lengthAdjust="spacingAndGlyphs">9.0</text>
<text x="1098.60" y="178.50" font-size="17.59" fill="#111" stroke="#111" stroke-width="0.3" text-anchor="start" textLength="21.63" lengthAdjust="spacingAndGlyphs">14</text>
<rect x="127" y="390" width="32" height="11" fill="#0050ff"/>
<rect x="165" y="386" width="105" height="20" fill="#fff"/>
<text x="169.20" y="401.90" font-size="19.30" fill="#000" text-anchor="start">Dež</text>
<rect x="278" y="390" width="32" height="11" fill="#14d8c4"/>
<rect x="310.3" y="386" width="110.5" height="20" fill="#fff"/>
<text x="318.80" y="401.90" font-size="19.40" fill="#000" text-anchor="start">Možnost ploh</text>
<text x="499.50" y="401.90" font-size="15.80" fill="#0000f4" text-anchor="start">© vreme.us &amp; vreme.pro</text>
<rect x="758" y="386" width="182" height="20" fill="#fff"/>
<text x="759.60" y="401.70" font-size="19.40" fill="#000" text-anchor="start">Gostota oblakov (%)</text>
<rect x="949.40" y="385.9" width="29.40" height="12.6" fill="#d2d2d2"/>
<rect x="978.50" y="385.9" width="29.40" height="12.6" fill="#b2b2b2"/>
<rect x="1007.60" y="385.9" width="29.40" height="12.6" fill="#939393"/>
<rect x="1036.70" y="385.9" width="29.40" height="12.6" fill="#747474"/>
<rect x="1065.80" y="385.9" width="29.40" height="12.6" fill="#555555"/>
<rect x="949.4" y="385.9" width="145.50" height="12.6" fill="none" stroke="#222" stroke-width="0.8"/>
<text x="949.40" y="415.50" font-size="16.66" fill="#111" stroke="#111" stroke-width="0.3" text-anchor="middle" textLength="18.96" lengthAdjust="spacingAndGlyphs">10</text>
<text x="978.50" y="415.50" font-size="16.66" fill="#111" stroke="#111" stroke-width="0.3" text-anchor="middle" textLength="18.96" lengthAdjust="spacingAndGlyphs">25</text>
<text x="1007.60" y="415.50" font-size="16.66" fill="#111" stroke="#111" stroke-width="0.3" text-anchor="middle" textLength="18.96" lengthAdjust="spacingAndGlyphs">50</text>
<text x="1036.70" y="415.50" font-size="16.66" fill="#111" stroke="#111" stroke-width="0.3" text-anchor="middle" textLength="18.96" lengthAdjust="spacingAndGlyphs">75</text>
<text x="1065.80" y="415.50" font-size="16.66" fill="#111" stroke="#111" stroke-width="0.3" text-anchor="middle" textLength="18.96" lengthAdjust="spacingAndGlyphs">90</text>
<text x="1094.90" y="415.50" font-size="16.66" fill="#111" stroke="#111" stroke-width="0.3" text-anchor="middle" textLength="28.44" lengthAdjust="spacingAndGlyphs">100</text>
</svg>
</body></html>
